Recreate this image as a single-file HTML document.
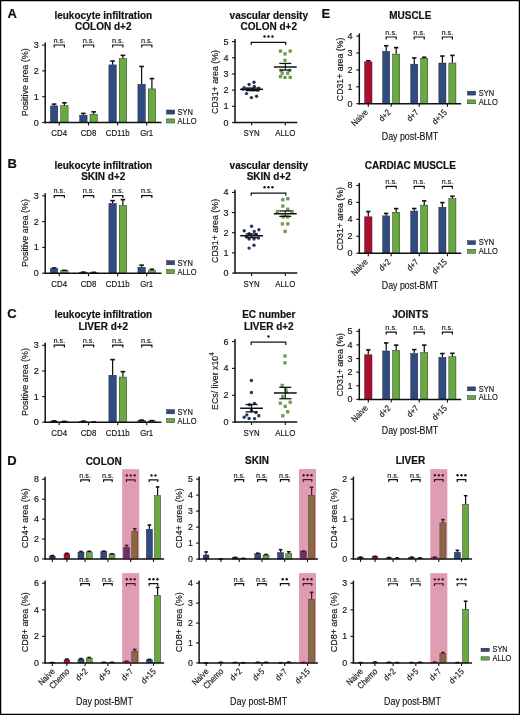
<!DOCTYPE html>
<html><head><meta charset="utf-8"><style>
html,body{margin:0;padding:0;background:#fff;}
body{width:520px;height:715px;overflow:hidden;}
svg{display:block;font-family:"Liberation Sans", sans-serif;will-change:transform;filter:blur(0.45px);}
text{fill:#111;}
</style></head><body>
<svg width="520" height="715" viewBox="0 0 520 715">
<rect x="0" y="0" width="520" height="715" fill="#fff"/>
<text x="7.60" y="18.30" font-size="13" font-weight="bold" stroke="#111" stroke-width="0.18">A</text>
<text x="7.40" y="167.90" font-size="13" font-weight="bold" stroke="#111" stroke-width="0.18">B</text>
<text x="7.20" y="317.70" font-size="13" font-weight="bold" stroke="#111" stroke-width="0.18">C</text>
<text x="7.20" y="465.00" font-size="13" font-weight="bold" stroke="#111" stroke-width="0.18">D</text>
<text x="321.60" y="18.40" font-size="13" font-weight="bold" stroke="#111" stroke-width="0.18">E</text>
<text x="103.30" y="18.80" font-size="10" font-weight="bold" text-anchor="middle" stroke="#111" stroke-width="0.18">leukocyte infiltration</text>
<text x="103.30" y="30.30" font-size="10" font-weight="bold" text-anchor="middle" stroke="#111" stroke-width="0.18">COLON d+2</text>
<rect x="50.40" y="105.93" width="7.40" height="16.57" fill="#2f4b80" stroke="#1c1c30" stroke-width="0.45"/>
<path d="M54.10 105.73L54.10 103.92" stroke="#111" stroke-width="1.25"/>
<path d="M51.80 104.12L56.40 104.12" stroke="#111" stroke-width="1.6"/>
<rect x="60.70" y="105.67" width="7.40" height="16.83" fill="#68aa3e" stroke="#1c1c30" stroke-width="0.45"/>
<path d="M64.40 105.47L64.40 102.63" stroke="#111" stroke-width="1.25"/>
<path d="M62.10 102.83L66.70 102.83" stroke="#111" stroke-width="1.6"/>
<path d="M54.20 47.40L54.20 45.00L64.40 45.00L64.40 47.40" stroke="#111" stroke-width="1.2" fill="none"/>
<text x="59.30" y="42.50" font-size="8" text-anchor="middle" textLength="11.80" lengthAdjust="spacingAndGlyphs" stroke="#222" stroke-width="0.15">n.s.</text>
<rect x="79.70" y="115.22" width="7.40" height="7.28" fill="#2f4b80" stroke="#1c1c30" stroke-width="0.45"/>
<path d="M83.40 115.02L83.40 113.21" stroke="#111" stroke-width="1.25"/>
<path d="M81.10 113.41L85.70 113.41" stroke="#111" stroke-width="1.6"/>
<rect x="90.00" y="114.19" width="7.40" height="8.31" fill="#68aa3e" stroke="#1c1c30" stroke-width="0.45"/>
<path d="M93.70 113.99L93.70 111.66" stroke="#111" stroke-width="1.25"/>
<path d="M91.40 111.86L96.00 111.86" stroke="#111" stroke-width="1.6"/>
<path d="M83.50 47.40L83.50 45.00L93.70 45.00L93.70 47.40" stroke="#111" stroke-width="1.2" fill="none"/>
<text x="88.60" y="42.50" font-size="8" text-anchor="middle" textLength="11.80" lengthAdjust="spacingAndGlyphs" stroke="#222" stroke-width="0.15">n.s.</text>
<rect x="108.90" y="64.91" width="7.40" height="57.59" fill="#2f4b80" stroke="#1c1c30" stroke-width="0.45"/>
<path d="M112.60 64.71L112.60 60.84" stroke="#111" stroke-width="1.25"/>
<path d="M110.30 61.04L114.90 61.04" stroke="#111" stroke-width="1.6"/>
<rect x="119.20" y="58.46" width="7.40" height="64.04" fill="#68aa3e" stroke="#1c1c30" stroke-width="0.45"/>
<path d="M122.90 58.26L122.90 55.16" stroke="#111" stroke-width="1.25"/>
<path d="M120.60 55.36L125.20 55.36" stroke="#111" stroke-width="1.6"/>
<path d="M112.70 47.40L112.70 45.00L122.90 45.00L122.90 47.40" stroke="#111" stroke-width="1.2" fill="none"/>
<text x="117.80" y="42.50" font-size="8" text-anchor="middle" textLength="11.80" lengthAdjust="spacingAndGlyphs" stroke="#222" stroke-width="0.15">n.s.</text>
<rect x="137.90" y="84.26" width="7.40" height="38.24" fill="#2f4b80" stroke="#1c1c30" stroke-width="0.45"/>
<path d="M141.60 84.06L141.60 66.26" stroke="#111" stroke-width="1.25"/>
<path d="M139.30 66.46L143.90 66.46" stroke="#111" stroke-width="1.6"/>
<rect x="148.20" y="88.90" width="7.40" height="33.60" fill="#68aa3e" stroke="#1c1c30" stroke-width="0.45"/>
<path d="M151.90 88.70L151.90 78.38" stroke="#111" stroke-width="1.25"/>
<path d="M149.60 78.58L154.20 78.58" stroke="#111" stroke-width="1.6"/>
<path d="M141.70 47.40L141.70 45.00L151.90 45.00L151.90 47.40" stroke="#111" stroke-width="1.2" fill="none"/>
<text x="146.80" y="42.50" font-size="8" text-anchor="middle" textLength="11.80" lengthAdjust="spacingAndGlyphs" stroke="#222" stroke-width="0.15">n.s.</text>
<path d="M45.20 42.50L45.20 123.20" stroke="#111" stroke-width="1.5"/>
<path d="M42.20 122.50L45.20 122.50" stroke="#111" stroke-width="1.1"/>
<text x="38.80" y="125.55" font-size="9.0" text-anchor="end" stroke="#111" stroke-width="0.15">0</text>
<path d="M42.20 96.70L45.20 96.70" stroke="#111" stroke-width="1.1"/>
<text x="38.80" y="99.75" font-size="9.0" text-anchor="end" stroke="#111" stroke-width="0.15">1</text>
<path d="M42.20 70.90L45.20 70.90" stroke="#111" stroke-width="1.1"/>
<text x="38.80" y="73.95" font-size="9.0" text-anchor="end" stroke="#111" stroke-width="0.15">2</text>
<path d="M42.20 45.10L45.20 45.10" stroke="#111" stroke-width="1.1"/>
<text x="38.80" y="48.15" font-size="9.0" text-anchor="end" stroke="#111" stroke-width="0.15">3</text>
<path d="M44.50 122.50L161.50 122.50" stroke="#111" stroke-width="1.5"/>
<path d="M59.20 122.50L59.20 125.50" stroke="#111" stroke-width="1.1"/>
<path d="M88.50 122.50L88.50 125.50" stroke="#111" stroke-width="1.1"/>
<path d="M117.70 122.50L117.70 125.50" stroke="#111" stroke-width="1.1"/>
<path d="M146.70 122.50L146.70 125.50" stroke="#111" stroke-width="1.1"/>
<text x="59.20" y="136.40" font-size="8.8" text-anchor="middle" textLength="15.70" lengthAdjust="spacingAndGlyphs" stroke="#111" stroke-width="0.15">CD4</text>
<text x="88.50" y="136.40" font-size="8.8" text-anchor="middle" textLength="15.70" lengthAdjust="spacingAndGlyphs" stroke="#111" stroke-width="0.15">CD8</text>
<text x="117.70" y="136.40" font-size="8.8" text-anchor="middle" textLength="23.85" lengthAdjust="spacingAndGlyphs" stroke="#111" stroke-width="0.15">CD11b</text>
<text x="146.70" y="136.40" font-size="8.8" text-anchor="middle" textLength="13.09" lengthAdjust="spacingAndGlyphs" stroke="#111" stroke-width="0.15">Gr1</text>
<text x="28.00" y="82.30" font-size="9.6" text-anchor="middle" transform="rotate(-90 28.00 82.30)" textLength="68.00" lengthAdjust="spacingAndGlyphs" stroke="#111" stroke-width="0.15">Positive area (%)</text>
<rect x="166.60" y="110.00" width="8.00" height="4.10" fill="#2f4b80" stroke="#1c1c30" stroke-width="0.45"/>
<rect x="166.60" y="118.90" width="8.00" height="4.10" fill="#68aa3e" stroke="#1c1c30" stroke-width="0.45"/>
<text x="177.40" y="114.90" font-size="8.6" textLength="15.42" lengthAdjust="spacingAndGlyphs" stroke="#111" stroke-width="0.15">SYN</text>
<text x="177.40" y="123.80" font-size="8.6" textLength="19.18" lengthAdjust="spacingAndGlyphs" stroke="#111" stroke-width="0.15">ALLO</text>
<text x="103.30" y="168.70" font-size="10" font-weight="bold" text-anchor="middle" stroke="#111" stroke-width="0.18">leukocyte infiltration</text>
<text x="103.30" y="180.20" font-size="10" font-weight="bold" text-anchor="middle" stroke="#111" stroke-width="0.18">SKIN d+2</text>
<rect x="50.40" y="268.76" width="7.40" height="4.44" fill="#2f4b80" stroke="#1c1c30" stroke-width="0.45"/>
<path d="M54.10 268.56L54.10 267.78" stroke="#111" stroke-width="1.25"/>
<path d="M51.80 267.98L56.40 267.98" stroke="#111" stroke-width="1.6"/>
<rect x="60.70" y="270.56" width="7.40" height="2.64" fill="#68aa3e" stroke="#1c1c30" stroke-width="0.45"/>
<path d="M64.40 270.36L64.40 270.10" stroke="#111" stroke-width="1.25"/>
<path d="M62.10 270.30L66.70 270.30" stroke="#111" stroke-width="1.6"/>
<path d="M54.20 198.10L54.20 195.70L64.40 195.70L64.40 198.10" stroke="#111" stroke-width="1.2" fill="none"/>
<text x="59.30" y="193.20" font-size="8" text-anchor="middle" textLength="11.80" lengthAdjust="spacingAndGlyphs" stroke="#222" stroke-width="0.15">n.s.</text>
<rect x="79.70" y="272.37" width="7.40" height="0.83" fill="#2f4b80" stroke="#1c1c30" stroke-width="0.45"/>
<path d="M83.40 272.17L83.40 271.91" stroke="#111" stroke-width="1.25"/>
<path d="M81.10 272.11L85.70 272.11" stroke="#111" stroke-width="1.6"/>
<rect x="90.00" y="272.63" width="7.40" height="0.57" fill="#68aa3e" stroke="#1c1c30" stroke-width="0.45"/>
<path d="M93.70 272.43L93.70 272.17" stroke="#111" stroke-width="1.25"/>
<path d="M91.40 272.37L96.00 272.37" stroke="#111" stroke-width="1.6"/>
<path d="M83.50 198.10L83.50 195.70L93.70 195.70L93.70 198.10" stroke="#111" stroke-width="1.2" fill="none"/>
<text x="88.60" y="193.20" font-size="8" text-anchor="middle" textLength="11.80" lengthAdjust="spacingAndGlyphs" stroke="#222" stroke-width="0.15">n.s.</text>
<rect x="108.90" y="203.48" width="7.40" height="69.72" fill="#2f4b80" stroke="#1c1c30" stroke-width="0.45"/>
<path d="M112.60 203.28L112.60 200.44" stroke="#111" stroke-width="1.25"/>
<path d="M110.30 200.64L114.90 200.64" stroke="#111" stroke-width="1.6"/>
<rect x="119.20" y="205.55" width="7.40" height="67.65" fill="#68aa3e" stroke="#1c1c30" stroke-width="0.45"/>
<path d="M122.90 205.35L122.90 199.41" stroke="#111" stroke-width="1.25"/>
<path d="M120.60 199.61L125.20 199.61" stroke="#111" stroke-width="1.6"/>
<path d="M112.70 198.10L112.70 195.70L122.90 195.70L122.90 198.10" stroke="#111" stroke-width="1.2" fill="none"/>
<text x="117.80" y="193.20" font-size="8" text-anchor="middle" textLength="11.80" lengthAdjust="spacingAndGlyphs" stroke="#222" stroke-width="0.15">n.s.</text>
<rect x="137.90" y="267.21" width="7.40" height="5.99" fill="#2f4b80" stroke="#1c1c30" stroke-width="0.45"/>
<path d="M141.60 267.01L141.60 264.94" stroke="#111" stroke-width="1.25"/>
<path d="M139.30 265.14L143.90 265.14" stroke="#111" stroke-width="1.6"/>
<rect x="148.20" y="270.56" width="7.40" height="2.64" fill="#68aa3e" stroke="#1c1c30" stroke-width="0.45"/>
<path d="M151.90 270.36L151.90 269.07" stroke="#111" stroke-width="1.25"/>
<path d="M149.60 269.27L154.20 269.27" stroke="#111" stroke-width="1.6"/>
<path d="M141.70 198.10L141.70 195.70L151.90 195.70L151.90 198.10" stroke="#111" stroke-width="1.2" fill="none"/>
<text x="146.80" y="193.20" font-size="8" text-anchor="middle" textLength="11.80" lengthAdjust="spacingAndGlyphs" stroke="#222" stroke-width="0.15">n.s.</text>
<path d="M45.20 193.20L45.20 273.90" stroke="#111" stroke-width="1.5"/>
<path d="M42.20 273.20L45.20 273.20" stroke="#111" stroke-width="1.1"/>
<text x="38.80" y="276.25" font-size="9.0" text-anchor="end" stroke="#111" stroke-width="0.15">0</text>
<path d="M42.20 247.40L45.20 247.40" stroke="#111" stroke-width="1.1"/>
<text x="38.80" y="250.45" font-size="9.0" text-anchor="end" stroke="#111" stroke-width="0.15">1</text>
<path d="M42.20 221.60L45.20 221.60" stroke="#111" stroke-width="1.1"/>
<text x="38.80" y="224.65" font-size="9.0" text-anchor="end" stroke="#111" stroke-width="0.15">2</text>
<path d="M42.20 195.80L45.20 195.80" stroke="#111" stroke-width="1.1"/>
<text x="38.80" y="198.85" font-size="9.0" text-anchor="end" stroke="#111" stroke-width="0.15">3</text>
<path d="M44.50 273.20L161.50 273.20" stroke="#111" stroke-width="1.5"/>
<path d="M59.20 273.20L59.20 276.20" stroke="#111" stroke-width="1.1"/>
<path d="M88.50 273.20L88.50 276.20" stroke="#111" stroke-width="1.1"/>
<path d="M117.70 273.20L117.70 276.20" stroke="#111" stroke-width="1.1"/>
<path d="M146.70 273.20L146.70 276.20" stroke="#111" stroke-width="1.1"/>
<text x="59.20" y="287.10" font-size="8.8" text-anchor="middle" textLength="15.70" lengthAdjust="spacingAndGlyphs" stroke="#111" stroke-width="0.15">CD4</text>
<text x="88.50" y="287.10" font-size="8.8" text-anchor="middle" textLength="15.70" lengthAdjust="spacingAndGlyphs" stroke="#111" stroke-width="0.15">CD8</text>
<text x="117.70" y="287.10" font-size="8.8" text-anchor="middle" textLength="23.85" lengthAdjust="spacingAndGlyphs" stroke="#111" stroke-width="0.15">CD11b</text>
<text x="146.70" y="287.10" font-size="8.8" text-anchor="middle" textLength="13.09" lengthAdjust="spacingAndGlyphs" stroke="#111" stroke-width="0.15">Gr1</text>
<text x="28.00" y="233.00" font-size="9.6" text-anchor="middle" transform="rotate(-90 28.00 233.00)" textLength="68.00" lengthAdjust="spacingAndGlyphs" stroke="#111" stroke-width="0.15">Positive area (%)</text>
<rect x="166.60" y="260.70" width="8.00" height="4.10" fill="#2f4b80" stroke="#1c1c30" stroke-width="0.45"/>
<rect x="166.60" y="269.60" width="8.00" height="4.10" fill="#68aa3e" stroke="#1c1c30" stroke-width="0.45"/>
<text x="177.40" y="265.60" font-size="8.6" textLength="15.42" lengthAdjust="spacingAndGlyphs" stroke="#111" stroke-width="0.15">SYN</text>
<text x="177.40" y="274.50" font-size="8.6" textLength="19.18" lengthAdjust="spacingAndGlyphs" stroke="#111" stroke-width="0.15">ALLO</text>
<text x="103.30" y="318.00" font-size="10" font-weight="bold" text-anchor="middle" stroke="#111" stroke-width="0.18">leukocyte infiltration</text>
<text x="103.30" y="329.50" font-size="10" font-weight="bold" text-anchor="middle" stroke="#111" stroke-width="0.18">LIVER d+2</text>
<rect x="50.40" y="421.12" width="7.40" height="1.08" fill="#2f4b80" stroke="#1c1c30" stroke-width="0.45"/>
<path d="M54.10 420.92L54.10 420.66" stroke="#111" stroke-width="1.25"/>
<path d="M51.80 420.86L56.40 420.86" stroke="#111" stroke-width="1.6"/>
<rect x="60.70" y="421.63" width="7.40" height="0.57" fill="#68aa3e" stroke="#1c1c30" stroke-width="0.45"/>
<path d="M64.40 421.43L64.40 421.17" stroke="#111" stroke-width="1.25"/>
<path d="M62.10 421.37L66.70 421.37" stroke="#111" stroke-width="1.6"/>
<path d="M54.20 347.61L54.20 345.21L64.40 345.21L64.40 347.61" stroke="#111" stroke-width="1.2" fill="none"/>
<text x="59.30" y="342.71" font-size="8" text-anchor="middle" textLength="11.80" lengthAdjust="spacingAndGlyphs" stroke="#222" stroke-width="0.15">n.s.</text>
<rect x="79.70" y="421.37" width="7.40" height="0.83" fill="#2f4b80" stroke="#1c1c30" stroke-width="0.45"/>
<path d="M83.40 421.17L83.40 420.92" stroke="#111" stroke-width="1.25"/>
<path d="M81.10 421.12L85.70 421.12" stroke="#111" stroke-width="1.6"/>
<rect x="90.00" y="422.14" width="7.40" height="0.06" fill="#68aa3e" stroke="#1c1c30" stroke-width="0.45"/>
<path d="M93.70 421.94L93.70 421.69" stroke="#111" stroke-width="1.25"/>
<path d="M91.40 421.89L96.00 421.89" stroke="#111" stroke-width="1.6"/>
<path d="M83.50 347.61L83.50 345.21L93.70 345.21L93.70 347.61" stroke="#111" stroke-width="1.2" fill="none"/>
<text x="88.60" y="342.71" font-size="8" text-anchor="middle" textLength="11.80" lengthAdjust="spacingAndGlyphs" stroke="#222" stroke-width="0.15">n.s.</text>
<rect x="108.90" y="375.24" width="7.40" height="46.96" fill="#2f4b80" stroke="#1c1c30" stroke-width="0.45"/>
<path d="M112.60 375.04L112.60 359.41" stroke="#111" stroke-width="1.25"/>
<path d="M110.30 359.61L114.90 359.61" stroke="#111" stroke-width="1.6"/>
<rect x="119.20" y="377.03" width="7.40" height="45.17" fill="#68aa3e" stroke="#1c1c30" stroke-width="0.45"/>
<path d="M122.90 376.83L122.90 371.45" stroke="#111" stroke-width="1.25"/>
<path d="M120.60 371.65L125.20 371.65" stroke="#111" stroke-width="1.6"/>
<path d="M112.70 347.61L112.70 345.21L122.90 345.21L122.90 347.61" stroke="#111" stroke-width="1.2" fill="none"/>
<text x="117.80" y="342.71" font-size="8" text-anchor="middle" textLength="11.80" lengthAdjust="spacingAndGlyphs" stroke="#222" stroke-width="0.15">n.s.</text>
<rect x="137.90" y="420.35" width="7.40" height="1.85" fill="#2f4b80" stroke="#1c1c30" stroke-width="0.45"/>
<path d="M141.60 420.15L141.60 419.89" stroke="#111" stroke-width="1.25"/>
<path d="M139.30 420.09L143.90 420.09" stroke="#111" stroke-width="1.6"/>
<rect x="148.20" y="420.86" width="7.40" height="1.34" fill="#68aa3e" stroke="#1c1c30" stroke-width="0.45"/>
<path d="M151.90 420.66L151.90 420.41" stroke="#111" stroke-width="1.25"/>
<path d="M149.60 420.61L154.20 420.61" stroke="#111" stroke-width="1.6"/>
<path d="M141.70 347.61L141.70 345.21L151.90 345.21L151.90 347.61" stroke="#111" stroke-width="1.2" fill="none"/>
<text x="146.80" y="342.71" font-size="8" text-anchor="middle" textLength="11.80" lengthAdjust="spacingAndGlyphs" stroke="#222" stroke-width="0.15">n.s.</text>
<path d="M45.20 342.71L45.20 422.90" stroke="#111" stroke-width="1.5"/>
<path d="M42.20 422.20L45.20 422.20" stroke="#111" stroke-width="1.1"/>
<text x="38.80" y="425.25" font-size="9.0" text-anchor="end" stroke="#111" stroke-width="0.15">0</text>
<path d="M42.20 396.57L45.20 396.57" stroke="#111" stroke-width="1.1"/>
<text x="38.80" y="399.62" font-size="9.0" text-anchor="end" stroke="#111" stroke-width="0.15">1</text>
<path d="M42.20 370.94L45.20 370.94" stroke="#111" stroke-width="1.1"/>
<text x="38.80" y="373.99" font-size="9.0" text-anchor="end" stroke="#111" stroke-width="0.15">2</text>
<path d="M42.20 345.31L45.20 345.31" stroke="#111" stroke-width="1.1"/>
<text x="38.80" y="348.36" font-size="9.0" text-anchor="end" stroke="#111" stroke-width="0.15">3</text>
<path d="M44.50 422.20L161.50 422.20" stroke="#111" stroke-width="1.5"/>
<path d="M59.20 422.20L59.20 425.20" stroke="#111" stroke-width="1.1"/>
<path d="M88.50 422.20L88.50 425.20" stroke="#111" stroke-width="1.1"/>
<path d="M117.70 422.20L117.70 425.20" stroke="#111" stroke-width="1.1"/>
<path d="M146.70 422.20L146.70 425.20" stroke="#111" stroke-width="1.1"/>
<text x="59.20" y="436.10" font-size="8.8" text-anchor="middle" textLength="15.70" lengthAdjust="spacingAndGlyphs" stroke="#111" stroke-width="0.15">CD4</text>
<text x="88.50" y="436.10" font-size="8.8" text-anchor="middle" textLength="15.70" lengthAdjust="spacingAndGlyphs" stroke="#111" stroke-width="0.15">CD8</text>
<text x="117.70" y="436.10" font-size="8.8" text-anchor="middle" textLength="23.85" lengthAdjust="spacingAndGlyphs" stroke="#111" stroke-width="0.15">CD11b</text>
<text x="146.70" y="436.10" font-size="8.8" text-anchor="middle" textLength="13.09" lengthAdjust="spacingAndGlyphs" stroke="#111" stroke-width="0.15">Gr1</text>
<text x="28.00" y="382.00" font-size="9.6" text-anchor="middle" transform="rotate(-90 28.00 382.00)" textLength="68.00" lengthAdjust="spacingAndGlyphs" stroke="#111" stroke-width="0.15">Positive area (%)</text>
<rect x="166.60" y="409.70" width="8.00" height="4.10" fill="#2f4b80" stroke="#1c1c30" stroke-width="0.45"/>
<rect x="166.60" y="418.60" width="8.00" height="4.10" fill="#68aa3e" stroke="#1c1c30" stroke-width="0.45"/>
<text x="177.40" y="414.60" font-size="8.6" textLength="15.42" lengthAdjust="spacingAndGlyphs" stroke="#111" stroke-width="0.15">SYN</text>
<text x="177.40" y="423.50" font-size="8.6" textLength="19.18" lengthAdjust="spacingAndGlyphs" stroke="#111" stroke-width="0.15">ALLO</text>
<text x="268.80" y="18.80" font-size="10" font-weight="bold" text-anchor="middle" stroke="#111" stroke-width="0.18">vascular density</text>
<text x="268.80" y="30.30" font-size="10" font-weight="bold" text-anchor="middle" stroke="#111" stroke-width="0.18">COLON d+2</text>
<path d="M235.00 39.00L235.00 123.20" stroke="#111" stroke-width="1.5"/>
<path d="M232.00 122.50L235.00 122.50" stroke="#111" stroke-width="1.1"/>
<text x="228.40" y="125.55" font-size="9.0" text-anchor="end" stroke="#111" stroke-width="0.15">0</text>
<path d="M232.00 106.32L235.00 106.32" stroke="#111" stroke-width="1.1"/>
<text x="228.40" y="109.37" font-size="9.0" text-anchor="end" stroke="#111" stroke-width="0.15">1</text>
<path d="M232.00 90.14L235.00 90.14" stroke="#111" stroke-width="1.1"/>
<text x="228.40" y="93.19" font-size="9.0" text-anchor="end" stroke="#111" stroke-width="0.15">2</text>
<path d="M232.00 73.96L235.00 73.96" stroke="#111" stroke-width="1.1"/>
<text x="228.40" y="77.01" font-size="9.0" text-anchor="end" stroke="#111" stroke-width="0.15">3</text>
<path d="M232.00 57.78L235.00 57.78" stroke="#111" stroke-width="1.1"/>
<text x="228.40" y="60.83" font-size="9.0" text-anchor="end" stroke="#111" stroke-width="0.15">4</text>
<path d="M232.00 41.60L235.00 41.60" stroke="#111" stroke-width="1.1"/>
<text x="228.40" y="44.65" font-size="9.0" text-anchor="end" stroke="#111" stroke-width="0.15">5</text>
<path d="M234.30 122.50L297.30 122.50" stroke="#111" stroke-width="1.5"/>
<path d="M251.60 122.50L251.60 125.50" stroke="#111" stroke-width="1.1"/>
<path d="M285.30 122.50L285.30 125.50" stroke="#111" stroke-width="1.1"/>
<text x="251.60" y="136.20" font-size="8.8" text-anchor="middle" textLength="16.14" lengthAdjust="spacingAndGlyphs" stroke="#111" stroke-width="0.15">SYN</text>
<text x="285.30" y="136.20" font-size="8.8" text-anchor="middle" textLength="20.07" lengthAdjust="spacingAndGlyphs" stroke="#111" stroke-width="0.15">ALLO</text>
<path d="M251.20 45.00L251.20 42.30L285.80 42.30L285.80 45.00" stroke="#111" stroke-width="1.2" fill="none"/>
<circle cx="264.55" cy="36.50" r="1.2" fill="#111"/>
<circle cx="268.50" cy="36.50" r="1.2" fill="#111"/>
<circle cx="272.45" cy="36.50" r="1.2" fill="#111"/>
<circle cx="254" cy="82.2" r="1.7" fill="#23395f"/>
<circle cx="249.1" cy="84.5" r="1.7" fill="#23395f"/>
<circle cx="244.2" cy="87.8" r="1.7" fill="#23395f"/>
<circle cx="254.3" cy="86.5" r="1.7" fill="#23395f"/>
<circle cx="258.9" cy="88.1" r="1.7" fill="#23395f"/>
<circle cx="246.5" cy="93.6" r="1.7" fill="#23395f"/>
<circle cx="251.4" cy="97.6" r="1.7" fill="#23395f"/>
<circle cx="256.6" cy="96.3" r="1.7" fill="#23395f"/>
<circle cx="247.8" cy="89.5" r="1.7" fill="#23395f"/>
<circle cx="253" cy="89.8" r="1.7" fill="#23395f"/>
<circle cx="258" cy="90.3" r="1.7" fill="#23395f"/>
<circle cx="243" cy="89.2" r="1.7" fill="#23395f"/>
<rect x="278.85" y="49.45" width="3.3" height="3.3" fill="#6f9b50"/>
<rect x="288.55" y="49.45" width="3.3" height="3.3" fill="#6f9b50"/>
<rect x="283.35" y="52.25" width="3.3" height="3.3" fill="#6f9b50"/>
<rect x="283.35" y="58.75" width="3.3" height="3.3" fill="#6f9b50"/>
<rect x="279.55" y="68.85" width="3.3" height="3.3" fill="#6f9b50"/>
<rect x="287.85" y="68.85" width="3.3" height="3.3" fill="#6f9b50"/>
<rect x="280.55" y="71.55" width="3.3" height="3.3" fill="#6f9b50"/>
<rect x="286.05" y="71.55" width="3.3" height="3.3" fill="#6f9b50"/>
<rect x="278.85" y="75.05" width="3.3" height="3.3" fill="#6f9b50"/>
<rect x="283.35" y="75.75" width="3.3" height="3.3" fill="#6f9b50"/>
<rect x="288.55" y="75.75" width="3.3" height="3.3" fill="#6f9b50"/>
<path d="M240.20 89.33L263.00 89.33" stroke="#111" stroke-width="1.5"/>
<path d="M245.60 90.63L257.60 90.63" stroke="#111" stroke-width="1.3"/>
<path d="M245.60 88.04L257.60 88.04" stroke="#111" stroke-width="1.3"/>
<path d="M251.60 90.63L251.60 88.04" stroke="#111" stroke-width="1.1"/>
<path d="M273.90 67.00L296.70 67.00" stroke="#111" stroke-width="1.5"/>
<path d="M279.30 70.08L291.30 70.08" stroke="#111" stroke-width="1.3"/>
<path d="M279.30 63.44L291.30 63.44" stroke="#111" stroke-width="1.3"/>
<path d="M285.30 70.08L285.30 63.44" stroke="#111" stroke-width="1.1"/>
<text x="218.30" y="82.00" font-size="9.6" text-anchor="middle" transform="rotate(-90 218.30 82.00)" textLength="64.00" lengthAdjust="spacingAndGlyphs" stroke="#111" stroke-width="0.15">CD31+ area (%)</text>
<text x="268.80" y="168.90" font-size="10" font-weight="bold" text-anchor="middle" stroke="#111" stroke-width="0.18">vascular density</text>
<text x="268.80" y="180.40" font-size="10" font-weight="bold" text-anchor="middle" stroke="#111" stroke-width="0.18">SKIN d+2</text>
<path d="M235.00 189.78L235.00 273.80" stroke="#111" stroke-width="1.5"/>
<path d="M232.00 273.10L235.00 273.10" stroke="#111" stroke-width="1.1"/>
<text x="228.40" y="276.15" font-size="9.0" text-anchor="end" stroke="#111" stroke-width="0.15">0</text>
<path d="M232.00 252.92L235.00 252.92" stroke="#111" stroke-width="1.1"/>
<text x="228.40" y="255.97" font-size="9.0" text-anchor="end" stroke="#111" stroke-width="0.15">1</text>
<path d="M232.00 232.74L235.00 232.74" stroke="#111" stroke-width="1.1"/>
<text x="228.40" y="235.79" font-size="9.0" text-anchor="end" stroke="#111" stroke-width="0.15">2</text>
<path d="M232.00 212.56L235.00 212.56" stroke="#111" stroke-width="1.1"/>
<text x="228.40" y="215.61" font-size="9.0" text-anchor="end" stroke="#111" stroke-width="0.15">3</text>
<path d="M232.00 192.38L235.00 192.38" stroke="#111" stroke-width="1.1"/>
<text x="228.40" y="195.43" font-size="9.0" text-anchor="end" stroke="#111" stroke-width="0.15">4</text>
<path d="M234.30 273.10L297.30 273.10" stroke="#111" stroke-width="1.5"/>
<path d="M251.60 273.10L251.60 276.10" stroke="#111" stroke-width="1.1"/>
<path d="M285.30 273.10L285.30 276.10" stroke="#111" stroke-width="1.1"/>
<text x="251.60" y="286.80" font-size="8.8" text-anchor="middle" textLength="16.14" lengthAdjust="spacingAndGlyphs" stroke="#111" stroke-width="0.15">SYN</text>
<text x="285.30" y="286.80" font-size="8.8" text-anchor="middle" textLength="20.07" lengthAdjust="spacingAndGlyphs" stroke="#111" stroke-width="0.15">ALLO</text>
<path d="M251.20 195.78L251.20 193.08L285.80 193.08L285.80 195.78" stroke="#111" stroke-width="1.2" fill="none"/>
<circle cx="264.55" cy="187.28" r="1.2" fill="#111"/>
<circle cx="268.50" cy="187.28" r="1.2" fill="#111"/>
<circle cx="272.45" cy="187.28" r="1.2" fill="#111"/>
<circle cx="251.6" cy="226.2" r="1.7" fill="#23395f"/>
<circle cx="244.2" cy="230.8" r="1.7" fill="#23395f"/>
<circle cx="254.3" cy="231.4" r="1.7" fill="#23395f"/>
<circle cx="258.9" cy="229.8" r="1.7" fill="#23395f"/>
<circle cx="249.1" cy="233.7" r="1.7" fill="#23395f"/>
<circle cx="256.3" cy="234.4" r="1.7" fill="#23395f"/>
<circle cx="249.1" cy="239" r="1.7" fill="#23395f"/>
<circle cx="254" cy="239" r="1.7" fill="#23395f"/>
<circle cx="258.5" cy="238" r="1.7" fill="#23395f"/>
<circle cx="246.5" cy="236.7" r="1.7" fill="#23395f"/>
<circle cx="254" cy="245.2" r="1.7" fill="#23395f"/>
<circle cx="249.1" cy="248.1" r="1.7" fill="#23395f"/>
<rect x="281.15" y="198.05" width="3.3" height="3.3" fill="#6f9b50"/>
<rect x="286.15" y="197.05" width="3.3" height="3.3" fill="#6f9b50"/>
<rect x="281.15" y="204.45" width="3.3" height="3.3" fill="#6f9b50"/>
<rect x="286.15" y="207.55" width="3.3" height="3.3" fill="#6f9b50"/>
<rect x="275.75" y="209.85" width="3.3" height="3.3" fill="#6f9b50"/>
<rect x="290.55" y="209.85" width="3.3" height="3.3" fill="#6f9b50"/>
<rect x="281.45" y="215.25" width="3.3" height="3.3" fill="#6f9b50"/>
<rect x="285.85" y="215.25" width="3.3" height="3.3" fill="#6f9b50"/>
<rect x="280.75" y="222.25" width="3.3" height="3.3" fill="#6f9b50"/>
<rect x="286.15" y="222.25" width="3.3" height="3.3" fill="#6f9b50"/>
<rect x="283.45" y="229.65" width="3.3" height="3.3" fill="#6f9b50"/>
<path d="M240.20 235.77L263.00 235.77" stroke="#111" stroke-width="1.5"/>
<path d="M245.60 237.58L257.60 237.58" stroke="#111" stroke-width="1.3"/>
<path d="M245.60 233.95L257.60 233.95" stroke="#111" stroke-width="1.3"/>
<path d="M251.60 237.58L251.60 233.95" stroke="#111" stroke-width="1.1"/>
<path d="M273.90 213.77L296.70 213.77" stroke="#111" stroke-width="1.5"/>
<path d="M279.30 216.39L291.30 216.39" stroke="#111" stroke-width="1.3"/>
<path d="M279.30 210.95L291.30 210.95" stroke="#111" stroke-width="1.3"/>
<path d="M285.30 216.39L285.30 210.95" stroke="#111" stroke-width="1.1"/>
<text x="218.30" y="230.90" font-size="9.6" text-anchor="middle" transform="rotate(-90 218.30 230.90)" textLength="64.00" lengthAdjust="spacingAndGlyphs" stroke="#111" stroke-width="0.15">CD31+ area (%)</text>
<text x="268.80" y="318.00" font-size="10" font-weight="bold" text-anchor="middle" stroke="#111" stroke-width="0.18">EC number</text>
<text x="268.80" y="329.50" font-size="10" font-weight="bold" text-anchor="middle" stroke="#111" stroke-width="0.18">LIVER d+2</text>
<path d="M235.00 338.92L235.00 422.80" stroke="#111" stroke-width="1.5"/>
<path d="M232.00 422.10L235.00 422.10" stroke="#111" stroke-width="1.1"/>
<text x="228.40" y="425.15" font-size="9.0" text-anchor="end" stroke="#111" stroke-width="0.15">0</text>
<path d="M232.00 395.24L235.00 395.24" stroke="#111" stroke-width="1.1"/>
<text x="228.40" y="398.29" font-size="9.0" text-anchor="end" stroke="#111" stroke-width="0.15">2</text>
<path d="M232.00 368.38L235.00 368.38" stroke="#111" stroke-width="1.1"/>
<text x="228.40" y="371.43" font-size="9.0" text-anchor="end" stroke="#111" stroke-width="0.15">4</text>
<path d="M232.00 341.52L235.00 341.52" stroke="#111" stroke-width="1.1"/>
<text x="228.40" y="344.57" font-size="9.0" text-anchor="end" stroke="#111" stroke-width="0.15">6</text>
<path d="M234.30 422.10L297.30 422.10" stroke="#111" stroke-width="1.5"/>
<path d="M251.60 422.10L251.60 425.10" stroke="#111" stroke-width="1.1"/>
<path d="M285.30 422.10L285.30 425.10" stroke="#111" stroke-width="1.1"/>
<text x="251.60" y="435.80" font-size="8.8" text-anchor="middle" textLength="16.14" lengthAdjust="spacingAndGlyphs" stroke="#111" stroke-width="0.15">SYN</text>
<text x="285.30" y="435.80" font-size="8.8" text-anchor="middle" textLength="20.07" lengthAdjust="spacingAndGlyphs" stroke="#111" stroke-width="0.15">ALLO</text>
<path d="M251.20 344.92L251.20 342.22L285.80 342.22L285.80 344.92" stroke="#111" stroke-width="1.2" fill="none"/>
<circle cx="268.50" cy="336.42" r="1.2" fill="#111"/>
<circle cx="251.4" cy="380.5" r="1.7" fill="#23395f"/>
<circle cx="251.4" cy="392.5" r="1.7" fill="#23395f"/>
<circle cx="249.5" cy="404.7" r="1.7" fill="#23395f"/>
<circle cx="254.5" cy="403.5" r="1.7" fill="#23395f"/>
<circle cx="244.2" cy="417.2" r="1.7" fill="#23395f"/>
<circle cx="249.1" cy="418.4" r="1.7" fill="#23395f"/>
<circle cx="254.5" cy="418.6" r="1.7" fill="#23395f"/>
<circle cx="258.8" cy="415.8" r="1.7" fill="#23395f"/>
<circle cx="246.8" cy="414.9" r="1.7" fill="#23395f"/>
<circle cx="251.5" cy="410.5" r="1.7" fill="#23395f"/>
<circle cx="256" cy="412.5" r="1.7" fill="#23395f"/>
<rect x="283.35" y="354.35" width="3.3" height="3.3" fill="#6f9b50"/>
<rect x="283.35" y="361.15" width="3.3" height="3.3" fill="#6f9b50"/>
<rect x="280.55" y="383.75" width="3.3" height="3.3" fill="#6f9b50"/>
<rect x="284.15" y="388.05" width="3.3" height="3.3" fill="#6f9b50"/>
<rect x="284.85" y="390.55" width="3.3" height="3.3" fill="#6f9b50"/>
<rect x="281.15" y="394.85" width="3.3" height="3.3" fill="#6f9b50"/>
<rect x="278.65" y="401.55" width="3.3" height="3.3" fill="#6f9b50"/>
<rect x="288.55" y="400.55" width="3.3" height="3.3" fill="#6f9b50"/>
<rect x="283.55" y="404.65" width="3.3" height="3.3" fill="#6f9b50"/>
<rect x="286.05" y="410.15" width="3.3" height="3.3" fill="#6f9b50"/>
<rect x="281.15" y="414.15" width="3.3" height="3.3" fill="#6f9b50"/>
<path d="M240.20 408.27L263.00 408.27" stroke="#111" stroke-width="1.5"/>
<path d="M245.60 411.89L257.60 411.89" stroke="#111" stroke-width="1.3"/>
<path d="M245.60 404.51L257.60 404.51" stroke="#111" stroke-width="1.3"/>
<path d="M251.60 411.89L251.60 404.51" stroke="#111" stroke-width="1.1"/>
<path d="M273.90 392.96L296.70 392.96" stroke="#111" stroke-width="1.5"/>
<path d="M279.30 398.73L291.30 398.73" stroke="#111" stroke-width="1.3"/>
<path d="M279.30 387.32L291.30 387.32" stroke="#111" stroke-width="1.3"/>
<path d="M285.30 398.73L285.30 387.32" stroke="#111" stroke-width="1.1"/>
<text x="218.3" y="381.2" font-size="9.6" text-anchor="middle" stroke="#111" stroke-width="0.15" transform="rotate(-90 218.3 381.2)" textLength="57.5" lengthAdjust="spacingAndGlyphs">ECs/ liver x10<tspan font-size="6.5" dy="-3.8">4</tspan></text>
<rect x="49.45" y="556.02" width="5.70" height="2.88" fill="#4b2a68" stroke="#1c1c30" stroke-width="0.45"/>
<path d="M52.30 555.82L52.30 555.32" stroke="#111" stroke-width="1.25"/>
<path d="M50.50 555.52L54.10 555.52" stroke="#111" stroke-width="1.6"/>
<rect x="64.05" y="553.83" width="5.70" height="5.07" fill="#b00c30" stroke="#1c1c30" stroke-width="0.45"/>
<path d="M66.90 553.63L66.90 553.13" stroke="#111" stroke-width="1.25"/>
<path d="M65.10 553.33L68.70 553.33" stroke="#111" stroke-width="1.6"/>
<rect x="78.00" y="552.13" width="6.00" height="6.77" fill="#2f4b80" stroke="#1c1c30" stroke-width="0.45"/>
<path d="M81.00 551.93L81.00 551.34" stroke="#111" stroke-width="1.25"/>
<path d="M79.20 551.54L82.80 551.54" stroke="#111" stroke-width="1.6"/>
<rect x="86.20" y="551.84" width="6.00" height="7.06" fill="#68aa3e" stroke="#1c1c30" stroke-width="0.45"/>
<path d="M89.20 551.64L89.20 551.14" stroke="#111" stroke-width="1.25"/>
<path d="M87.40 551.34L91.00 551.34" stroke="#111" stroke-width="1.6"/>
<rect x="100.80" y="551.54" width="6.00" height="7.36" fill="#2f4b80" stroke="#1c1c30" stroke-width="0.45"/>
<path d="M103.80 551.34L103.80 550.94" stroke="#111" stroke-width="1.25"/>
<path d="M102.00 551.14L105.60 551.14" stroke="#111" stroke-width="1.6"/>
<rect x="109.00" y="554.03" width="6.00" height="4.87" fill="#68aa3e" stroke="#1c1c30" stroke-width="0.45"/>
<path d="M112.00 553.83L112.00 553.63" stroke="#111" stroke-width="1.25"/>
<path d="M110.20 553.83L113.80 553.83" stroke="#111" stroke-width="1.6"/>
<rect x="123.60" y="547.46" width="6.00" height="11.44" fill="#2f4b80" stroke="#1c1c30" stroke-width="0.45"/>
<path d="M126.60 547.26L126.60 545.27" stroke="#111" stroke-width="1.25"/>
<path d="M124.80 545.47L128.40 545.47" stroke="#111" stroke-width="1.6"/>
<rect x="131.80" y="531.44" width="6.00" height="27.46" fill="#68aa3e" stroke="#1c1c30" stroke-width="0.45"/>
<path d="M134.80 531.24L134.80 528.55" stroke="#111" stroke-width="1.25"/>
<path d="M133.00 528.75L136.60 528.75" stroke="#111" stroke-width="1.6"/>
<rect x="146.40" y="529.25" width="6.00" height="29.65" fill="#2f4b80" stroke="#1c1c30" stroke-width="0.45"/>
<path d="M149.40 529.05L149.40 524.87" stroke="#111" stroke-width="1.25"/>
<path d="M147.60 525.07L151.20 525.07" stroke="#111" stroke-width="1.6"/>
<rect x="154.60" y="495.62" width="6.00" height="63.28" fill="#68aa3e" stroke="#1c1c30" stroke-width="0.45"/>
<path d="M157.60 495.42L157.60 486.76" stroke="#111" stroke-width="1.25"/>
<path d="M155.80 486.96L159.40 486.96" stroke="#111" stroke-width="1.6"/>
<path d="M45.10 476.70L45.10 559.60" stroke="#111" stroke-width="1.5"/>
<path d="M42.10 558.90L45.10 558.90" stroke="#111" stroke-width="1.1"/>
<text x="38.80" y="561.95" font-size="8.8" text-anchor="end" stroke="#111" stroke-width="0.15">0</text>
<path d="M42.10 539.00L45.10 539.00" stroke="#111" stroke-width="1.1"/>
<text x="38.80" y="542.05" font-size="8.8" text-anchor="end" stroke="#111" stroke-width="0.15">2</text>
<path d="M42.10 519.10L45.10 519.10" stroke="#111" stroke-width="1.1"/>
<text x="38.80" y="522.15" font-size="8.8" text-anchor="end" stroke="#111" stroke-width="0.15">4</text>
<path d="M42.10 499.20L45.10 499.20" stroke="#111" stroke-width="1.1"/>
<text x="38.80" y="502.25" font-size="8.8" text-anchor="end" stroke="#111" stroke-width="0.15">6</text>
<path d="M42.10 479.30L45.10 479.30" stroke="#111" stroke-width="1.1"/>
<text x="38.80" y="482.35" font-size="8.8" text-anchor="end" stroke="#111" stroke-width="0.15">8</text>
<path d="M44.40 558.90L164.10 558.90" stroke="#111" stroke-width="1.5"/>
<path d="M52.30 558.90L52.30 561.90" stroke="#111" stroke-width="1.1"/>
<path d="M66.90 558.90L66.90 561.90" stroke="#111" stroke-width="1.1"/>
<path d="M85.10 558.90L85.10 561.90" stroke="#111" stroke-width="1.1"/>
<path d="M107.90 558.90L107.90 561.90" stroke="#111" stroke-width="1.1"/>
<path d="M130.70 558.90L130.70 561.90" stroke="#111" stroke-width="1.1"/>
<path d="M153.50 558.90L153.50 561.90" stroke="#111" stroke-width="1.1"/>
<path d="M80.80 482.10L80.80 479.80L89.40 479.80L89.40 482.10" stroke="#111" stroke-width="1.2" fill="none"/>
<text x="85.10" y="477.80" font-size="7.8" text-anchor="middle" textLength="11.60" lengthAdjust="spacingAndGlyphs" stroke="#222" stroke-width="0.15">n.s.</text>
<path d="M103.60 482.10L103.60 479.80L112.20 479.80L112.20 482.10" stroke="#111" stroke-width="1.2" fill="none"/>
<text x="107.90" y="477.80" font-size="7.8" text-anchor="middle" textLength="11.60" lengthAdjust="spacingAndGlyphs" stroke="#222" stroke-width="0.15">n.s.</text>
<path d="M126.40 482.10L126.40 479.80L135.00 479.80L135.00 482.10" stroke="#111" stroke-width="1.2" fill="none"/>
<circle cx="126.75" cy="475.40" r="1.2" fill="#111"/>
<circle cx="130.70" cy="475.40" r="1.2" fill="#111"/>
<circle cx="134.65" cy="475.40" r="1.2" fill="#111"/>
<path d="M149.20 482.10L149.20 479.80L157.80 479.80L157.80 482.10" stroke="#111" stroke-width="1.2" fill="none"/>
<circle cx="151.53" cy="475.40" r="1.2" fill="#111"/>
<circle cx="155.47" cy="475.40" r="1.2" fill="#111"/>
<text x="103.70" y="465.00" font-size="10" font-weight="bold" text-anchor="middle" stroke="#111" stroke-width="0.18">COLON</text>
<rect x="122.15" y="469.20" width="17.1" height="89.70" fill="rgba(176,22,66,0.42)"/>
<text x="28.10" y="518.30" font-size="9.6" text-anchor="middle" transform="rotate(-90 28.10 518.30)" textLength="60.00" lengthAdjust="spacingAndGlyphs" stroke="#111" stroke-width="0.15">CD4+ area (%)</text>
<rect x="49.45" y="662.70" width="5.70" height="0.20" fill="#4b2a68" stroke="#1c1c30" stroke-width="0.45"/>
<path d="M52.30 662.50L52.30 662.37" stroke="#111" stroke-width="1.25"/>
<path d="M50.50 662.57L54.10 662.57" stroke="#111" stroke-width="1.6"/>
<rect x="64.05" y="659.78" width="5.70" height="3.12" fill="#b00c30" stroke="#1c1c30" stroke-width="0.45"/>
<path d="M66.90 659.58L66.90 658.92" stroke="#111" stroke-width="1.25"/>
<path d="M65.10 659.12L68.70 659.12" stroke="#111" stroke-width="1.6"/>
<rect x="78.00" y="659.12" width="6.00" height="3.78" fill="#2f4b80" stroke="#1c1c30" stroke-width="0.45"/>
<path d="M81.00 658.92L81.00 658.38" stroke="#111" stroke-width="1.25"/>
<path d="M79.20 658.58L82.80 658.58" stroke="#111" stroke-width="1.6"/>
<rect x="86.20" y="658.05" width="6.00" height="4.85" fill="#68aa3e" stroke="#1c1c30" stroke-width="0.45"/>
<path d="M89.20 657.85L89.20 657.32" stroke="#111" stroke-width="1.25"/>
<path d="M87.40 657.52L91.00 657.52" stroke="#111" stroke-width="1.6"/>
<rect x="100.80" y="662.44" width="6.00" height="0.46" fill="#2f4b80" stroke="#1c1c30" stroke-width="0.45"/>
<path d="M103.80 662.24L103.80 662.10" stroke="#111" stroke-width="1.25"/>
<path d="M102.00 662.30L105.60 662.30" stroke="#111" stroke-width="1.6"/>
<rect x="109.00" y="662.44" width="6.00" height="0.46" fill="#68aa3e" stroke="#1c1c30" stroke-width="0.45"/>
<path d="M112.00 662.24L112.00 662.10" stroke="#111" stroke-width="1.25"/>
<path d="M110.20 662.30L113.80 662.30" stroke="#111" stroke-width="1.6"/>
<rect x="123.60" y="661.51" width="6.00" height="1.39" fill="#2f4b80" stroke="#1c1c30" stroke-width="0.45"/>
<path d="M126.60 661.31L126.60 661.04" stroke="#111" stroke-width="1.25"/>
<path d="M124.80 661.24L128.40 661.24" stroke="#111" stroke-width="1.6"/>
<rect x="131.80" y="651.15" width="6.00" height="11.75" fill="#68aa3e" stroke="#1c1c30" stroke-width="0.45"/>
<path d="M134.80 650.95L134.80 649.22" stroke="#111" stroke-width="1.25"/>
<path d="M133.00 649.42L136.60 649.42" stroke="#111" stroke-width="1.6"/>
<rect x="146.40" y="659.78" width="6.00" height="3.12" fill="#2f4b80" stroke="#1c1c30" stroke-width="0.45"/>
<path d="M149.40 659.58L149.40 659.18" stroke="#111" stroke-width="1.25"/>
<path d="M147.60 659.38L151.20 659.38" stroke="#111" stroke-width="1.6"/>
<rect x="154.60" y="595.37" width="6.00" height="67.53" fill="#68aa3e" stroke="#1c1c30" stroke-width="0.45"/>
<path d="M157.60 595.17L157.60 587.20" stroke="#111" stroke-width="1.25"/>
<path d="M155.80 587.40L159.40 587.40" stroke="#111" stroke-width="1.6"/>
<path d="M45.10 580.62L45.10 663.60" stroke="#111" stroke-width="1.5"/>
<path d="M42.10 662.90L45.10 662.90" stroke="#111" stroke-width="1.1"/>
<text x="38.80" y="665.95" font-size="8.8" text-anchor="end" stroke="#111" stroke-width="0.15">0</text>
<path d="M42.10 636.34L45.10 636.34" stroke="#111" stroke-width="1.1"/>
<text x="38.80" y="639.39" font-size="8.8" text-anchor="end" stroke="#111" stroke-width="0.15">2</text>
<path d="M42.10 609.78L45.10 609.78" stroke="#111" stroke-width="1.1"/>
<text x="38.80" y="612.83" font-size="8.8" text-anchor="end" stroke="#111" stroke-width="0.15">4</text>
<path d="M42.10 583.22L45.10 583.22" stroke="#111" stroke-width="1.1"/>
<text x="38.80" y="586.27" font-size="8.8" text-anchor="end" stroke="#111" stroke-width="0.15">6</text>
<path d="M44.40 662.90L164.10 662.90" stroke="#111" stroke-width="1.5"/>
<path d="M52.30 662.90L52.30 665.90" stroke="#111" stroke-width="1.1"/>
<path d="M66.90 662.90L66.90 665.90" stroke="#111" stroke-width="1.1"/>
<path d="M85.10 662.90L85.10 665.90" stroke="#111" stroke-width="1.1"/>
<path d="M107.90 662.90L107.90 665.90" stroke="#111" stroke-width="1.1"/>
<path d="M130.70 662.90L130.70 665.90" stroke="#111" stroke-width="1.1"/>
<path d="M153.50 662.90L153.50 665.90" stroke="#111" stroke-width="1.1"/>
<path d="M80.80 586.02L80.80 583.72L89.40 583.72L89.40 586.02" stroke="#111" stroke-width="1.2" fill="none"/>
<text x="85.10" y="581.72" font-size="7.8" text-anchor="middle" textLength="11.60" lengthAdjust="spacingAndGlyphs" stroke="#222" stroke-width="0.15">n.s.</text>
<path d="M103.60 586.02L103.60 583.72L112.20 583.72L112.20 586.02" stroke="#111" stroke-width="1.2" fill="none"/>
<text x="107.90" y="581.72" font-size="7.8" text-anchor="middle" textLength="11.60" lengthAdjust="spacingAndGlyphs" stroke="#222" stroke-width="0.15">n.s.</text>
<path d="M126.40 586.02L126.40 583.72L135.00 583.72L135.00 586.02" stroke="#111" stroke-width="1.2" fill="none"/>
<circle cx="126.75" cy="579.32" r="1.2" fill="#111"/>
<circle cx="130.70" cy="579.32" r="1.2" fill="#111"/>
<circle cx="134.65" cy="579.32" r="1.2" fill="#111"/>
<path d="M149.20 586.02L149.20 583.72L157.80 583.72L157.80 586.02" stroke="#111" stroke-width="1.2" fill="none"/>
<circle cx="149.55" cy="579.32" r="1.2" fill="#111"/>
<circle cx="153.50" cy="579.32" r="1.2" fill="#111"/>
<circle cx="157.45" cy="579.32" r="1.2" fill="#111"/>
<rect x="122.15" y="573.12" width="17.1" height="89.78" fill="rgba(176,22,66,0.42)"/>
<text x="27.90" y="622.26" font-size="9.6" text-anchor="middle" transform="rotate(-90 27.90 622.26)" textLength="60.00" lengthAdjust="spacingAndGlyphs" stroke="#111" stroke-width="0.15">CD8+ area (%)</text>
<text x="55.40" y="672.10" font-size="8.8" text-anchor="end" transform="rotate(-45 55.40 672.10)" textLength="19.43" lengthAdjust="spacingAndGlyphs" stroke="#111" stroke-width="0.15">Naive</text>
<text x="70.00" y="672.10" font-size="8.8" text-anchor="end" transform="rotate(-45 70.00 672.10)" textLength="24.50" lengthAdjust="spacingAndGlyphs" stroke="#111" stroke-width="0.15">Chemo</text>
<text x="88.20" y="672.10" font-size="8.8" text-anchor="end" transform="rotate(-45 88.20 672.10)" textLength="12.89" lengthAdjust="spacingAndGlyphs" stroke="#111" stroke-width="0.15">d+2</text>
<text x="111.00" y="672.10" font-size="8.8" text-anchor="end" transform="rotate(-45 111.00 672.10)" textLength="12.89" lengthAdjust="spacingAndGlyphs" stroke="#111" stroke-width="0.15">d+5</text>
<text x="133.80" y="672.10" font-size="8.8" text-anchor="end" transform="rotate(-45 133.80 672.10)" textLength="12.89" lengthAdjust="spacingAndGlyphs" stroke="#111" stroke-width="0.15">d+7</text>
<text x="156.60" y="672.10" font-size="8.8" text-anchor="end" transform="rotate(-45 156.60 672.10)" textLength="17.12" lengthAdjust="spacingAndGlyphs" stroke="#111" stroke-width="0.15">d+15</text>
<rect x="203.25" y="554.98" width="5.70" height="4.12" fill="#4b2a68" stroke="#1c1c30" stroke-width="0.45"/>
<path d="M206.10 554.78L206.10 551.74" stroke="#111" stroke-width="1.25"/>
<path d="M204.30 551.94L207.90 551.94" stroke="#111" stroke-width="1.6"/>
<rect x="218.05" y="558.98" width="5.70" height="0.12" fill="#b00c30" stroke="#1c1c30" stroke-width="0.45"/>
<path d="M220.90 558.78L220.90 558.62" stroke="#111" stroke-width="1.25"/>
<path d="M219.10 558.82L222.70 558.82" stroke="#111" stroke-width="1.6"/>
<rect x="232.20" y="557.70" width="6.00" height="1.40" fill="#2f4b80" stroke="#1c1c30" stroke-width="0.45"/>
<path d="M235.20 557.50L235.20 557.18" stroke="#111" stroke-width="1.25"/>
<path d="M233.40 557.38L237.00 557.38" stroke="#111" stroke-width="1.6"/>
<rect x="240.40" y="558.50" width="6.00" height="0.60" fill="#68aa3e" stroke="#1c1c30" stroke-width="0.45"/>
<path d="M243.40 558.30L243.40 558.14" stroke="#111" stroke-width="1.25"/>
<path d="M241.60 558.34L245.20 558.34" stroke="#111" stroke-width="1.6"/>
<rect x="254.80" y="553.70" width="6.00" height="5.40" fill="#2f4b80" stroke="#1c1c30" stroke-width="0.45"/>
<path d="M257.80 553.50L257.80 553.02" stroke="#111" stroke-width="1.25"/>
<path d="M256.00 553.22L259.60 553.22" stroke="#111" stroke-width="1.6"/>
<rect x="263.00" y="554.98" width="6.00" height="4.12" fill="#68aa3e" stroke="#1c1c30" stroke-width="0.45"/>
<path d="M266.00 554.78L266.00 554.30" stroke="#111" stroke-width="1.25"/>
<path d="M264.20 554.50L267.80 554.50" stroke="#111" stroke-width="1.6"/>
<rect x="277.60" y="552.58" width="6.00" height="6.52" fill="#2f4b80" stroke="#1c1c30" stroke-width="0.45"/>
<path d="M280.60 552.38L280.60 549.50" stroke="#111" stroke-width="1.25"/>
<path d="M278.80 549.70L282.40 549.70" stroke="#111" stroke-width="1.6"/>
<rect x="285.80" y="553.70" width="6.00" height="5.40" fill="#68aa3e" stroke="#1c1c30" stroke-width="0.45"/>
<path d="M288.80 553.50L288.80 551.58" stroke="#111" stroke-width="1.25"/>
<path d="M287.00 551.78L290.60 551.78" stroke="#111" stroke-width="1.6"/>
<rect x="300.40" y="551.30" width="6.00" height="7.80" fill="#2f4b80" stroke="#1c1c30" stroke-width="0.45"/>
<path d="M303.40 551.10L303.40 550.78" stroke="#111" stroke-width="1.25"/>
<path d="M301.60 550.98L305.20 550.98" stroke="#111" stroke-width="1.6"/>
<rect x="308.60" y="495.30" width="6.00" height="63.80" fill="#68aa3e" stroke="#1c1c30" stroke-width="0.45"/>
<path d="M311.60 495.10L311.60 487.10" stroke="#111" stroke-width="1.25"/>
<path d="M309.80 487.30L313.40 487.30" stroke="#111" stroke-width="1.6"/>
<path d="M199.10 476.50L199.10 559.80" stroke="#111" stroke-width="1.5"/>
<path d="M196.10 559.10L199.10 559.10" stroke="#111" stroke-width="1.1"/>
<text x="192.80" y="562.15" font-size="8.8" text-anchor="end" stroke="#111" stroke-width="0.15">0</text>
<path d="M196.10 543.10L199.10 543.10" stroke="#111" stroke-width="1.1"/>
<text x="192.80" y="546.15" font-size="8.8" text-anchor="end" stroke="#111" stroke-width="0.15">1</text>
<path d="M196.10 527.10L199.10 527.10" stroke="#111" stroke-width="1.1"/>
<text x="192.80" y="530.15" font-size="8.8" text-anchor="end" stroke="#111" stroke-width="0.15">2</text>
<path d="M196.10 511.10L199.10 511.10" stroke="#111" stroke-width="1.1"/>
<text x="192.80" y="514.15" font-size="8.8" text-anchor="end" stroke="#111" stroke-width="0.15">3</text>
<path d="M196.10 495.10L199.10 495.10" stroke="#111" stroke-width="1.1"/>
<text x="192.80" y="498.15" font-size="8.8" text-anchor="end" stroke="#111" stroke-width="0.15">4</text>
<path d="M196.10 479.10L199.10 479.10" stroke="#111" stroke-width="1.1"/>
<text x="192.80" y="482.15" font-size="8.8" text-anchor="end" stroke="#111" stroke-width="0.15">5</text>
<path d="M198.40 559.10L318.00 559.10" stroke="#111" stroke-width="1.5"/>
<path d="M206.10 559.10L206.10 562.10" stroke="#111" stroke-width="1.1"/>
<path d="M220.90 559.10L220.90 562.10" stroke="#111" stroke-width="1.1"/>
<path d="M239.30 559.10L239.30 562.10" stroke="#111" stroke-width="1.1"/>
<path d="M261.90 559.10L261.90 562.10" stroke="#111" stroke-width="1.1"/>
<path d="M284.70 559.10L284.70 562.10" stroke="#111" stroke-width="1.1"/>
<path d="M307.50 559.10L307.50 562.10" stroke="#111" stroke-width="1.1"/>
<path d="M235.00 481.90L235.00 479.60L243.60 479.60L243.60 481.90" stroke="#111" stroke-width="1.2" fill="none"/>
<text x="239.30" y="477.60" font-size="7.8" text-anchor="middle" textLength="11.60" lengthAdjust="spacingAndGlyphs" stroke="#222" stroke-width="0.15">n.s.</text>
<path d="M257.60 481.90L257.60 479.60L266.20 479.60L266.20 481.90" stroke="#111" stroke-width="1.2" fill="none"/>
<text x="261.90" y="477.60" font-size="7.8" text-anchor="middle" textLength="11.60" lengthAdjust="spacingAndGlyphs" stroke="#222" stroke-width="0.15">n.s.</text>
<path d="M280.40 481.90L280.40 479.60L289.00 479.60L289.00 481.90" stroke="#111" stroke-width="1.2" fill="none"/>
<text x="284.70" y="477.60" font-size="7.8" text-anchor="middle" textLength="11.60" lengthAdjust="spacingAndGlyphs" stroke="#222" stroke-width="0.15">n.s.</text>
<path d="M303.20 481.90L303.20 479.60L311.80 479.60L311.80 481.90" stroke="#111" stroke-width="1.2" fill="none"/>
<circle cx="303.55" cy="475.20" r="1.2" fill="#111"/>
<circle cx="307.50" cy="475.20" r="1.2" fill="#111"/>
<circle cx="311.45" cy="475.20" r="1.2" fill="#111"/>
<text x="257.00" y="464.40" font-size="10" font-weight="bold" text-anchor="middle" stroke="#111" stroke-width="0.18">SKIN</text>
<rect x="298.95" y="469.00" width="17.1" height="90.10" fill="rgba(176,22,66,0.42)"/>
<text x="182.30" y="518.30" font-size="9.6" text-anchor="middle" transform="rotate(-90 182.30 518.30)" textLength="60.00" lengthAdjust="spacingAndGlyphs" stroke="#111" stroke-width="0.15">CD4+ area (%)</text>
<rect x="203.25" y="663.10" width="5.70" height="0.01" fill="#4b2a68" stroke="#1c1c30" stroke-width="0.45"/>
<path d="M206.10 662.90L206.10 662.70" stroke="#111" stroke-width="1.25"/>
<path d="M204.30 662.90L207.90 662.90" stroke="#111" stroke-width="1.6"/>
<rect x="218.05" y="662.50" width="5.70" height="0.40" fill="#b00c30" stroke="#1c1c30" stroke-width="0.45"/>
<path d="M220.90 662.30L220.90 662.10" stroke="#111" stroke-width="1.25"/>
<path d="M219.10 662.30L222.70 662.30" stroke="#111" stroke-width="1.6"/>
<rect x="232.20" y="662.70" width="6.00" height="0.20" fill="#2f4b80" stroke="#1c1c30" stroke-width="0.45"/>
<path d="M235.20 662.50L235.20 662.30" stroke="#111" stroke-width="1.25"/>
<path d="M233.40 662.50L237.00 662.50" stroke="#111" stroke-width="1.6"/>
<rect x="240.40" y="662.90" width="6.00" height="0.01" fill="#68aa3e" stroke="#1c1c30" stroke-width="0.45"/>
<path d="M243.40 662.70L243.40 662.50" stroke="#111" stroke-width="1.25"/>
<path d="M241.60 662.70L245.20 662.70" stroke="#111" stroke-width="1.6"/>
<rect x="254.80" y="662.50" width="6.00" height="0.40" fill="#2f4b80" stroke="#1c1c30" stroke-width="0.45"/>
<path d="M257.80 662.30L257.80 662.10" stroke="#111" stroke-width="1.25"/>
<path d="M256.00 662.30L259.60 662.30" stroke="#111" stroke-width="1.6"/>
<rect x="263.00" y="662.50" width="6.00" height="0.40" fill="#68aa3e" stroke="#1c1c30" stroke-width="0.45"/>
<path d="M266.00 662.30L266.00 662.10" stroke="#111" stroke-width="1.25"/>
<path d="M264.20 662.30L267.80 662.30" stroke="#111" stroke-width="1.6"/>
<rect x="277.60" y="662.90" width="6.00" height="0.01" fill="#2f4b80" stroke="#1c1c30" stroke-width="0.45"/>
<path d="M280.60 662.70L280.60 662.50" stroke="#111" stroke-width="1.25"/>
<path d="M278.80 662.70L282.40 662.70" stroke="#111" stroke-width="1.6"/>
<rect x="285.80" y="662.30" width="6.00" height="0.60" fill="#68aa3e" stroke="#1c1c30" stroke-width="0.45"/>
<path d="M288.80 662.10L288.80 661.90" stroke="#111" stroke-width="1.25"/>
<path d="M287.00 662.10L290.60 662.10" stroke="#111" stroke-width="1.6"/>
<rect x="300.40" y="662.70" width="6.00" height="0.20" fill="#2f4b80" stroke="#1c1c30" stroke-width="0.45"/>
<path d="M303.40 662.50L303.40 662.30" stroke="#111" stroke-width="1.25"/>
<path d="M301.60 662.50L305.20 662.50" stroke="#111" stroke-width="1.6"/>
<rect x="308.60" y="599.32" width="6.00" height="63.58" fill="#68aa3e" stroke="#1c1c30" stroke-width="0.45"/>
<path d="M311.60 599.12L311.60 592.15" stroke="#111" stroke-width="1.25"/>
<path d="M309.80 592.35L313.40 592.35" stroke="#111" stroke-width="1.6"/>
<path d="M199.10 580.58L199.10 663.60" stroke="#111" stroke-width="1.5"/>
<path d="M196.10 662.90L199.10 662.90" stroke="#111" stroke-width="1.1"/>
<text x="192.80" y="665.95" font-size="8.8" text-anchor="end" stroke="#111" stroke-width="0.15">0</text>
<path d="M196.10 642.97L199.10 642.97" stroke="#111" stroke-width="1.1"/>
<text x="192.80" y="646.02" font-size="8.8" text-anchor="end" stroke="#111" stroke-width="0.15">1</text>
<path d="M196.10 623.04L199.10 623.04" stroke="#111" stroke-width="1.1"/>
<text x="192.80" y="626.09" font-size="8.8" text-anchor="end" stroke="#111" stroke-width="0.15">2</text>
<path d="M196.10 603.11L199.10 603.11" stroke="#111" stroke-width="1.1"/>
<text x="192.80" y="606.16" font-size="8.8" text-anchor="end" stroke="#111" stroke-width="0.15">3</text>
<path d="M196.10 583.18L199.10 583.18" stroke="#111" stroke-width="1.1"/>
<text x="192.80" y="586.23" font-size="8.8" text-anchor="end" stroke="#111" stroke-width="0.15">4</text>
<path d="M198.40 662.90L318.00 662.90" stroke="#111" stroke-width="1.5"/>
<path d="M206.10 662.90L206.10 665.90" stroke="#111" stroke-width="1.1"/>
<path d="M220.90 662.90L220.90 665.90" stroke="#111" stroke-width="1.1"/>
<path d="M239.30 662.90L239.30 665.90" stroke="#111" stroke-width="1.1"/>
<path d="M261.90 662.90L261.90 665.90" stroke="#111" stroke-width="1.1"/>
<path d="M284.70 662.90L284.70 665.90" stroke="#111" stroke-width="1.1"/>
<path d="M307.50 662.90L307.50 665.90" stroke="#111" stroke-width="1.1"/>
<path d="M235.00 585.98L235.00 583.68L243.60 583.68L243.60 585.98" stroke="#111" stroke-width="1.2" fill="none"/>
<text x="239.30" y="581.68" font-size="7.8" text-anchor="middle" textLength="11.60" lengthAdjust="spacingAndGlyphs" stroke="#222" stroke-width="0.15">n.s.</text>
<path d="M257.60 585.98L257.60 583.68L266.20 583.68L266.20 585.98" stroke="#111" stroke-width="1.2" fill="none"/>
<text x="261.90" y="581.68" font-size="7.8" text-anchor="middle" textLength="11.60" lengthAdjust="spacingAndGlyphs" stroke="#222" stroke-width="0.15">n.s.</text>
<path d="M280.40 585.98L280.40 583.68L289.00 583.68L289.00 585.98" stroke="#111" stroke-width="1.2" fill="none"/>
<circle cx="282.72" cy="579.28" r="1.2" fill="#111"/>
<circle cx="286.68" cy="579.28" r="1.2" fill="#111"/>
<path d="M303.20 585.98L303.20 583.68L311.80 583.68L311.80 585.98" stroke="#111" stroke-width="1.2" fill="none"/>
<circle cx="303.55" cy="579.28" r="1.2" fill="#111"/>
<circle cx="307.50" cy="579.28" r="1.2" fill="#111"/>
<circle cx="311.45" cy="579.28" r="1.2" fill="#111"/>
<rect x="298.95" y="573.08" width="17.1" height="89.82" fill="rgba(176,22,66,0.42)"/>
<text x="182.30" y="622.24" font-size="9.6" text-anchor="middle" transform="rotate(-90 182.30 622.24)" textLength="60.00" lengthAdjust="spacingAndGlyphs" stroke="#111" stroke-width="0.15">CD8+ area (%)</text>
<text x="209.20" y="672.10" font-size="8.8" text-anchor="end" transform="rotate(-45 209.20 672.10)" textLength="19.43" lengthAdjust="spacingAndGlyphs" stroke="#111" stroke-width="0.15">Naive</text>
<text x="224.00" y="672.10" font-size="8.8" text-anchor="end" transform="rotate(-45 224.00 672.10)" textLength="24.50" lengthAdjust="spacingAndGlyphs" stroke="#111" stroke-width="0.15">Chemo</text>
<text x="242.40" y="672.10" font-size="8.8" text-anchor="end" transform="rotate(-45 242.40 672.10)" textLength="12.89" lengthAdjust="spacingAndGlyphs" stroke="#111" stroke-width="0.15">d+2</text>
<text x="265.00" y="672.10" font-size="8.8" text-anchor="end" transform="rotate(-45 265.00 672.10)" textLength="12.89" lengthAdjust="spacingAndGlyphs" stroke="#111" stroke-width="0.15">d+5</text>
<text x="287.80" y="672.10" font-size="8.8" text-anchor="end" transform="rotate(-45 287.80 672.10)" textLength="12.89" lengthAdjust="spacingAndGlyphs" stroke="#111" stroke-width="0.15">d+7</text>
<text x="310.60" y="672.10" font-size="8.8" text-anchor="end" transform="rotate(-45 310.60 672.10)" textLength="17.12" lengthAdjust="spacingAndGlyphs" stroke="#111" stroke-width="0.15">d+15</text>
<rect x="357.65" y="557.51" width="5.70" height="1.39" fill="#4b2a68" stroke="#1c1c30" stroke-width="0.45"/>
<path d="M360.50 557.31L360.50 556.91" stroke="#111" stroke-width="1.25"/>
<path d="M358.70 557.11L362.30 557.11" stroke="#111" stroke-width="1.6"/>
<rect x="372.15" y="556.71" width="5.70" height="2.19" fill="#b00c30" stroke="#1c1c30" stroke-width="0.45"/>
<path d="M375.00 556.51L375.00 556.11" stroke="#111" stroke-width="1.25"/>
<path d="M373.20 556.31L376.80 556.31" stroke="#111" stroke-width="1.6"/>
<rect x="386.00" y="557.90" width="6.00" height="1.00" fill="#2f4b80" stroke="#1c1c30" stroke-width="0.45"/>
<path d="M389.00 557.70L389.00 557.31" stroke="#111" stroke-width="1.25"/>
<path d="M387.20 557.51L390.80 557.51" stroke="#111" stroke-width="1.6"/>
<rect x="394.20" y="558.30" width="6.00" height="0.60" fill="#68aa3e" stroke="#1c1c30" stroke-width="0.45"/>
<path d="M397.20 558.10L397.20 557.70" stroke="#111" stroke-width="1.25"/>
<path d="M395.40 557.90L399.00 557.90" stroke="#111" stroke-width="1.6"/>
<rect x="408.70" y="557.51" width="6.00" height="1.39" fill="#2f4b80" stroke="#1c1c30" stroke-width="0.45"/>
<path d="M411.70 557.31L411.70 556.91" stroke="#111" stroke-width="1.25"/>
<path d="M409.90 557.11L413.50 557.11" stroke="#111" stroke-width="1.6"/>
<rect x="416.90" y="558.30" width="6.00" height="0.60" fill="#68aa3e" stroke="#1c1c30" stroke-width="0.45"/>
<path d="M419.90 558.10L419.90 557.70" stroke="#111" stroke-width="1.25"/>
<path d="M418.10 557.90L421.70 557.90" stroke="#111" stroke-width="1.6"/>
<rect x="431.70" y="557.51" width="6.00" height="1.39" fill="#2f4b80" stroke="#1c1c30" stroke-width="0.45"/>
<path d="M434.70 557.31L434.70 556.91" stroke="#111" stroke-width="1.25"/>
<path d="M432.90 557.11L436.50 557.11" stroke="#111" stroke-width="1.6"/>
<rect x="439.90" y="522.84" width="6.00" height="36.06" fill="#68aa3e" stroke="#1c1c30" stroke-width="0.45"/>
<path d="M442.90 522.64L442.90 519.45" stroke="#111" stroke-width="1.25"/>
<path d="M441.10 519.65L444.70 519.65" stroke="#111" stroke-width="1.6"/>
<rect x="454.40" y="552.33" width="6.00" height="6.57" fill="#2f4b80" stroke="#1c1c30" stroke-width="0.45"/>
<path d="M457.40 552.13L457.40 550.13" stroke="#111" stroke-width="1.25"/>
<path d="M455.60 550.33L459.20 550.33" stroke="#111" stroke-width="1.6"/>
<rect x="462.60" y="504.51" width="6.00" height="54.39" fill="#68aa3e" stroke="#1c1c30" stroke-width="0.45"/>
<path d="M465.60 504.31L465.60 495.54" stroke="#111" stroke-width="1.25"/>
<path d="M463.80 495.74L467.40 495.74" stroke="#111" stroke-width="1.6"/>
<path d="M353.40 476.60L353.40 559.60" stroke="#111" stroke-width="1.5"/>
<path d="M350.40 558.90L353.40 558.90" stroke="#111" stroke-width="1.1"/>
<text x="347.10" y="561.95" font-size="8.8" text-anchor="end" stroke="#111" stroke-width="0.15">0</text>
<path d="M350.40 519.05L353.40 519.05" stroke="#111" stroke-width="1.1"/>
<text x="347.10" y="522.10" font-size="8.8" text-anchor="end" stroke="#111" stroke-width="0.15">1</text>
<path d="M350.40 479.20L353.40 479.20" stroke="#111" stroke-width="1.1"/>
<text x="347.10" y="482.25" font-size="8.8" text-anchor="end" stroke="#111" stroke-width="0.15">2</text>
<path d="M352.70 558.90L472.10 558.90" stroke="#111" stroke-width="1.5"/>
<path d="M360.50 558.90L360.50 561.90" stroke="#111" stroke-width="1.1"/>
<path d="M375.00 558.90L375.00 561.90" stroke="#111" stroke-width="1.1"/>
<path d="M393.10 558.90L393.10 561.90" stroke="#111" stroke-width="1.1"/>
<path d="M415.80 558.90L415.80 561.90" stroke="#111" stroke-width="1.1"/>
<path d="M438.80 558.90L438.80 561.90" stroke="#111" stroke-width="1.1"/>
<path d="M461.50 558.90L461.50 561.90" stroke="#111" stroke-width="1.1"/>
<path d="M388.80 482.00L388.80 479.70L397.40 479.70L397.40 482.00" stroke="#111" stroke-width="1.2" fill="none"/>
<text x="393.10" y="477.70" font-size="7.8" text-anchor="middle" textLength="11.60" lengthAdjust="spacingAndGlyphs" stroke="#222" stroke-width="0.15">n.s.</text>
<path d="M411.50 482.00L411.50 479.70L420.10 479.70L420.10 482.00" stroke="#111" stroke-width="1.2" fill="none"/>
<text x="415.80" y="477.70" font-size="7.8" text-anchor="middle" textLength="11.60" lengthAdjust="spacingAndGlyphs" stroke="#222" stroke-width="0.15">n.s.</text>
<path d="M434.50 482.00L434.50 479.70L443.10 479.70L443.10 482.00" stroke="#111" stroke-width="1.2" fill="none"/>
<circle cx="434.85" cy="475.30" r="1.2" fill="#111"/>
<circle cx="438.80" cy="475.30" r="1.2" fill="#111"/>
<circle cx="442.75" cy="475.30" r="1.2" fill="#111"/>
<path d="M457.20 482.00L457.20 479.70L465.80 479.70L465.80 482.00" stroke="#111" stroke-width="1.2" fill="none"/>
<circle cx="457.55" cy="475.30" r="1.2" fill="#111"/>
<circle cx="461.50" cy="475.30" r="1.2" fill="#111"/>
<circle cx="465.45" cy="475.30" r="1.2" fill="#111"/>
<text x="410.40" y="464.00" font-size="10" font-weight="bold" text-anchor="middle" stroke="#111" stroke-width="0.18">LIVER</text>
<rect x="430.25" y="469.10" width="17.1" height="89.80" fill="rgba(176,22,66,0.42)"/>
<text x="337.10" y="518.25" font-size="9.6" text-anchor="middle" transform="rotate(-90 337.10 518.25)" textLength="60.00" lengthAdjust="spacingAndGlyphs" stroke="#111" stroke-width="0.15">CD4+ area (%)</text>
<rect x="357.65" y="662.83" width="5.70" height="0.07" fill="#4b2a68" stroke="#1c1c30" stroke-width="0.45"/>
<path d="M360.50 662.63L360.50 662.37" stroke="#111" stroke-width="1.25"/>
<path d="M358.70 662.57L362.30 662.57" stroke="#111" stroke-width="1.6"/>
<rect x="372.15" y="662.30" width="5.70" height="0.60" fill="#b00c30" stroke="#1c1c30" stroke-width="0.45"/>
<path d="M375.00 662.10L375.00 661.84" stroke="#111" stroke-width="1.25"/>
<path d="M373.20 662.04L376.80 662.04" stroke="#111" stroke-width="1.6"/>
<rect x="386.00" y="662.57" width="6.00" height="0.33" fill="#2f4b80" stroke="#1c1c30" stroke-width="0.45"/>
<path d="M389.00 662.37L389.00 662.10" stroke="#111" stroke-width="1.25"/>
<path d="M387.20 662.30L390.80 662.30" stroke="#111" stroke-width="1.6"/>
<rect x="394.20" y="662.83" width="6.00" height="0.07" fill="#68aa3e" stroke="#1c1c30" stroke-width="0.45"/>
<path d="M397.20 662.63L397.20 662.37" stroke="#111" stroke-width="1.25"/>
<path d="M395.40 662.57L399.00 662.57" stroke="#111" stroke-width="1.6"/>
<rect x="408.70" y="662.83" width="6.00" height="0.07" fill="#2f4b80" stroke="#1c1c30" stroke-width="0.45"/>
<path d="M411.70 662.63L411.70 662.37" stroke="#111" stroke-width="1.25"/>
<path d="M409.90 662.57L413.50 662.57" stroke="#111" stroke-width="1.6"/>
<rect x="416.90" y="662.57" width="6.00" height="0.33" fill="#68aa3e" stroke="#1c1c30" stroke-width="0.45"/>
<path d="M419.90 662.37L419.90 662.10" stroke="#111" stroke-width="1.25"/>
<path d="M418.10 662.30L421.70 662.30" stroke="#111" stroke-width="1.6"/>
<rect x="431.70" y="662.30" width="6.00" height="0.60" fill="#2f4b80" stroke="#1c1c30" stroke-width="0.45"/>
<path d="M434.70 662.10L434.70 661.84" stroke="#111" stroke-width="1.25"/>
<path d="M432.90 662.04L436.50 662.04" stroke="#111" stroke-width="1.6"/>
<rect x="439.90" y="653.54" width="6.00" height="9.36" fill="#68aa3e" stroke="#1c1c30" stroke-width="0.45"/>
<path d="M442.90 653.34L442.90 652.28" stroke="#111" stroke-width="1.25"/>
<path d="M441.10 652.48L444.70 652.48" stroke="#111" stroke-width="1.6"/>
<rect x="454.40" y="662.83" width="6.00" height="0.07" fill="#2f4b80" stroke="#1c1c30" stroke-width="0.45"/>
<path d="M457.40 662.63L457.40 662.37" stroke="#111" stroke-width="1.25"/>
<path d="M455.60 662.57L459.20 662.57" stroke="#111" stroke-width="1.6"/>
<rect x="462.60" y="609.20" width="6.00" height="53.70" fill="#68aa3e" stroke="#1c1c30" stroke-width="0.45"/>
<path d="M465.60 609.00L465.60 601.04" stroke="#111" stroke-width="1.25"/>
<path d="M463.80 601.24L467.40 601.24" stroke="#111" stroke-width="1.6"/>
<path d="M353.40 580.65L353.40 663.60" stroke="#111" stroke-width="1.5"/>
<path d="M350.40 662.90L353.40 662.90" stroke="#111" stroke-width="1.1"/>
<text x="347.10" y="665.95" font-size="8.8" text-anchor="end" stroke="#111" stroke-width="0.15">0</text>
<path d="M350.40 636.35L353.40 636.35" stroke="#111" stroke-width="1.1"/>
<text x="347.10" y="639.40" font-size="8.8" text-anchor="end" stroke="#111" stroke-width="0.15">1</text>
<path d="M350.40 609.80L353.40 609.80" stroke="#111" stroke-width="1.1"/>
<text x="347.10" y="612.85" font-size="8.8" text-anchor="end" stroke="#111" stroke-width="0.15">2</text>
<path d="M350.40 583.25L353.40 583.25" stroke="#111" stroke-width="1.1"/>
<text x="347.10" y="586.30" font-size="8.8" text-anchor="end" stroke="#111" stroke-width="0.15">3</text>
<path d="M352.70 662.90L472.10 662.90" stroke="#111" stroke-width="1.5"/>
<path d="M360.50 662.90L360.50 665.90" stroke="#111" stroke-width="1.1"/>
<path d="M375.00 662.90L375.00 665.90" stroke="#111" stroke-width="1.1"/>
<path d="M393.10 662.90L393.10 665.90" stroke="#111" stroke-width="1.1"/>
<path d="M415.80 662.90L415.80 665.90" stroke="#111" stroke-width="1.1"/>
<path d="M438.80 662.90L438.80 665.90" stroke="#111" stroke-width="1.1"/>
<path d="M461.50 662.90L461.50 665.90" stroke="#111" stroke-width="1.1"/>
<path d="M388.80 586.05L388.80 583.75L397.40 583.75L397.40 586.05" stroke="#111" stroke-width="1.2" fill="none"/>
<text x="393.10" y="581.75" font-size="7.8" text-anchor="middle" textLength="11.60" lengthAdjust="spacingAndGlyphs" stroke="#222" stroke-width="0.15">n.s.</text>
<path d="M411.50 586.05L411.50 583.75L420.10 583.75L420.10 586.05" stroke="#111" stroke-width="1.2" fill="none"/>
<text x="415.80" y="581.75" font-size="7.8" text-anchor="middle" textLength="11.60" lengthAdjust="spacingAndGlyphs" stroke="#222" stroke-width="0.15">n.s.</text>
<path d="M434.50 586.05L434.50 583.75L443.10 583.75L443.10 586.05" stroke="#111" stroke-width="1.2" fill="none"/>
<circle cx="434.85" cy="579.35" r="1.2" fill="#111"/>
<circle cx="438.80" cy="579.35" r="1.2" fill="#111"/>
<circle cx="442.75" cy="579.35" r="1.2" fill="#111"/>
<path d="M457.20 586.05L457.20 583.75L465.80 583.75L465.80 586.05" stroke="#111" stroke-width="1.2" fill="none"/>
<circle cx="457.55" cy="579.35" r="1.2" fill="#111"/>
<circle cx="461.50" cy="579.35" r="1.2" fill="#111"/>
<circle cx="465.45" cy="579.35" r="1.2" fill="#111"/>
<rect x="430.25" y="573.15" width="17.1" height="89.75" fill="rgba(176,22,66,0.42)"/>
<text x="336.70" y="622.28" font-size="9.6" text-anchor="middle" transform="rotate(-90 336.70 622.28)" textLength="60.00" lengthAdjust="spacingAndGlyphs" stroke="#111" stroke-width="0.15">CD8+ area (%)</text>
<text x="363.60" y="672.10" font-size="8.8" text-anchor="end" transform="rotate(-45 363.60 672.10)" textLength="19.43" lengthAdjust="spacingAndGlyphs" stroke="#111" stroke-width="0.15">Naive</text>
<text x="378.10" y="672.10" font-size="8.8" text-anchor="end" transform="rotate(-45 378.10 672.10)" textLength="24.50" lengthAdjust="spacingAndGlyphs" stroke="#111" stroke-width="0.15">Chemo</text>
<text x="396.20" y="672.10" font-size="8.8" text-anchor="end" transform="rotate(-45 396.20 672.10)" textLength="12.89" lengthAdjust="spacingAndGlyphs" stroke="#111" stroke-width="0.15">d+2</text>
<text x="418.90" y="672.10" font-size="8.8" text-anchor="end" transform="rotate(-45 418.90 672.10)" textLength="12.89" lengthAdjust="spacingAndGlyphs" stroke="#111" stroke-width="0.15">d+5</text>
<text x="441.90" y="672.10" font-size="8.8" text-anchor="end" transform="rotate(-45 441.90 672.10)" textLength="12.89" lengthAdjust="spacingAndGlyphs" stroke="#111" stroke-width="0.15">d+7</text>
<text x="464.60" y="672.10" font-size="8.8" text-anchor="end" transform="rotate(-45 464.60 672.10)" textLength="17.12" lengthAdjust="spacingAndGlyphs" stroke="#111" stroke-width="0.15">d+15</text>
<rect x="481.00" y="648.20" width="8.30" height="3.30" fill="#2f4b80" stroke="#1c1c30" stroke-width="0.45"/>
<rect x="481.00" y="656.80" width="8.30" height="3.30" fill="#68aa3e" stroke="#1c1c30" stroke-width="0.45"/>
<text x="492.60" y="652.30" font-size="8.4" textLength="15.01" lengthAdjust="spacingAndGlyphs" stroke="#111" stroke-width="0.15">SYN</text>
<text x="492.60" y="660.90" font-size="8.4" textLength="18.67" lengthAdjust="spacingAndGlyphs" stroke="#111" stroke-width="0.15">ALLO</text>
<text x="104.50" y="705.30" font-size="11.6" text-anchor="middle" textLength="57.00" lengthAdjust="spacingAndGlyphs" stroke="#111" stroke-width="0.15">Day post-BMT</text>
<text x="258.60" y="705.30" font-size="11.6" text-anchor="middle" textLength="57.00" lengthAdjust="spacingAndGlyphs" stroke="#111" stroke-width="0.15">Day post-BMT</text>
<text x="412.50" y="705.30" font-size="11.6" text-anchor="middle" textLength="57.00" lengthAdjust="spacingAndGlyphs" stroke="#111" stroke-width="0.15">Day post-BMT</text>
<text x="410.30" y="18.80" font-size="10" font-weight="bold" text-anchor="middle" stroke="#111" stroke-width="0.18">MUSCLE</text>
<rect x="364.60" y="61.82" width="7.40" height="41.88" fill="#b00c30" stroke="#1c1c30" stroke-width="0.45"/>
<path d="M368.30 61.62L368.30 60.61" stroke="#111" stroke-width="1.25"/>
<path d="M366.10 60.81L370.50 60.81" stroke="#111" stroke-width="1.6"/>
<rect x="382.65" y="51.34" width="7.10" height="52.36" fill="#2f4b80" stroke="#1c1c30" stroke-width="0.45"/>
<path d="M386.20 51.14L386.20 45.56" stroke="#111" stroke-width="1.25"/>
<path d="M384.00 45.76L388.40 45.76" stroke="#111" stroke-width="1.6"/>
<rect x="392.65" y="54.05" width="7.10" height="49.65" fill="#68aa3e" stroke="#1c1c30" stroke-width="0.45"/>
<path d="M396.20 53.85L396.20 47.42" stroke="#111" stroke-width="1.25"/>
<path d="M394.00 47.62L398.40 47.62" stroke="#111" stroke-width="1.6"/>
<rect x="410.70" y="64.19" width="7.10" height="39.51" fill="#2f4b80" stroke="#1c1c30" stroke-width="0.45"/>
<path d="M414.25 63.99L414.25 57.73" stroke="#111" stroke-width="1.25"/>
<path d="M412.05 57.93L416.45 57.93" stroke="#111" stroke-width="1.6"/>
<rect x="420.70" y="58.27" width="7.10" height="45.43" fill="#68aa3e" stroke="#1c1c30" stroke-width="0.45"/>
<path d="M424.25 58.07L424.25 57.06" stroke="#111" stroke-width="1.25"/>
<path d="M422.05 57.26L426.45 57.26" stroke="#111" stroke-width="1.6"/>
<rect x="438.85" y="63.00" width="7.10" height="40.70" fill="#2f4b80" stroke="#1c1c30" stroke-width="0.45"/>
<path d="M442.40 62.80L442.40 55.87" stroke="#111" stroke-width="1.25"/>
<path d="M440.20 56.07L444.60 56.07" stroke="#111" stroke-width="1.6"/>
<rect x="448.85" y="63.00" width="7.10" height="40.70" fill="#68aa3e" stroke="#1c1c30" stroke-width="0.45"/>
<path d="M452.40 62.80L452.40 55.20" stroke="#111" stroke-width="1.25"/>
<path d="M450.20 55.40L454.60 55.40" stroke="#111" stroke-width="1.6"/>
<path d="M359.30 33.50L359.30 104.40" stroke="#111" stroke-width="1.5"/>
<path d="M356.30 103.70L359.30 103.70" stroke="#111" stroke-width="1.1"/>
<text x="352.50" y="106.75" font-size="9.0" text-anchor="end" stroke="#111" stroke-width="0.15">0</text>
<path d="M356.30 86.80L359.30 86.80" stroke="#111" stroke-width="1.1"/>
<text x="352.50" y="89.85" font-size="9.0" text-anchor="end" stroke="#111" stroke-width="0.15">1</text>
<path d="M356.30 69.90L359.30 69.90" stroke="#111" stroke-width="1.1"/>
<text x="352.50" y="72.95" font-size="9.0" text-anchor="end" stroke="#111" stroke-width="0.15">2</text>
<path d="M356.30 53.00L359.30 53.00" stroke="#111" stroke-width="1.1"/>
<text x="352.50" y="56.05" font-size="9.0" text-anchor="end" stroke="#111" stroke-width="0.15">3</text>
<path d="M356.30 36.10L359.30 36.10" stroke="#111" stroke-width="1.1"/>
<text x="352.50" y="39.15" font-size="9.0" text-anchor="end" stroke="#111" stroke-width="0.15">4</text>
<path d="M358.60 103.70L461.20 103.70" stroke="#111" stroke-width="1.5"/>
<path d="M368.30 103.70L368.30 106.70" stroke="#111" stroke-width="1.1"/>
<path d="M391.20 103.70L391.20 106.70" stroke="#111" stroke-width="1.1"/>
<path d="M419.25 103.70L419.25 106.70" stroke="#111" stroke-width="1.1"/>
<path d="M447.40 103.70L447.40 106.70" stroke="#111" stroke-width="1.1"/>
<path d="M386.20 39.40L386.20 37.00L396.20 37.00L396.20 39.40" stroke="#111" stroke-width="1.2" fill="none"/>
<text x="391.20" y="34.50" font-size="8" text-anchor="middle" textLength="12.00" lengthAdjust="spacingAndGlyphs" stroke="#222" stroke-width="0.15">n.s.</text>
<path d="M414.25 39.40L414.25 37.00L424.25 37.00L424.25 39.40" stroke="#111" stroke-width="1.2" fill="none"/>
<text x="419.25" y="34.50" font-size="8" text-anchor="middle" textLength="12.00" lengthAdjust="spacingAndGlyphs" stroke="#222" stroke-width="0.15">n.s.</text>
<path d="M442.40 39.40L442.40 37.00L452.40 37.00L452.40 39.40" stroke="#111" stroke-width="1.2" fill="none"/>
<text x="447.40" y="34.50" font-size="8" text-anchor="middle" textLength="12.00" lengthAdjust="spacingAndGlyphs" stroke="#222" stroke-width="0.15">n.s.</text>
<text x="342.90" y="69.40" font-size="9.6" text-anchor="middle" transform="rotate(-90 342.90 69.40)" textLength="63.50" lengthAdjust="spacingAndGlyphs" stroke="#111" stroke-width="0.15">CD31+ area (%)</text>
<text x="368.40" y="113.00" font-size="8.8" text-anchor="end" transform="rotate(-45 368.40 113.00)" textLength="19.43" lengthAdjust="spacingAndGlyphs" stroke="#111" stroke-width="0.15">Naive</text>
<text x="391.30" y="113.00" font-size="8.8" text-anchor="end" transform="rotate(-45 391.30 113.00)" textLength="12.89" lengthAdjust="spacingAndGlyphs" stroke="#111" stroke-width="0.15">d+2</text>
<text x="419.35" y="113.00" font-size="8.8" text-anchor="end" transform="rotate(-45 419.35 113.00)" textLength="12.89" lengthAdjust="spacingAndGlyphs" stroke="#111" stroke-width="0.15">d+7</text>
<text x="447.50" y="113.00" font-size="8.8" text-anchor="end" transform="rotate(-45 447.50 113.00)" textLength="17.12" lengthAdjust="spacingAndGlyphs" stroke="#111" stroke-width="0.15">d+15</text>
<text x="410.00" y="139.50" font-size="11.6" text-anchor="middle" textLength="56.50" lengthAdjust="spacingAndGlyphs" stroke="#111" stroke-width="0.15">Day post-BMT</text>
<rect x="467.50" y="91.20" width="8.10" height="3.90" fill="#2f4b80" stroke="#1c1c30" stroke-width="0.45"/>
<rect x="467.50" y="99.90" width="8.10" height="3.90" fill="#68aa3e" stroke="#1c1c30" stroke-width="0.45"/>
<text x="478.70" y="95.90" font-size="8.6" textLength="15.42" lengthAdjust="spacingAndGlyphs" stroke="#111" stroke-width="0.15">SYN</text>
<text x="478.70" y="104.60" font-size="8.6" textLength="19.18" lengthAdjust="spacingAndGlyphs" stroke="#111" stroke-width="0.15">ALLO</text>
<text x="410.30" y="168.70" font-size="10" font-weight="bold" text-anchor="middle" stroke="#111" stroke-width="0.18">CARDIAC MUSCLE</text>
<rect x="364.60" y="216.81" width="7.40" height="36.39" fill="#b00c30" stroke="#1c1c30" stroke-width="0.45"/>
<path d="M368.30 216.61L368.30 211.36" stroke="#111" stroke-width="1.25"/>
<path d="M366.10 211.56L370.50 211.56" stroke="#111" stroke-width="1.6"/>
<rect x="382.65" y="215.88" width="7.10" height="37.32" fill="#2f4b80" stroke="#1c1c30" stroke-width="0.45"/>
<path d="M386.20 215.68L386.20 213.22" stroke="#111" stroke-width="1.25"/>
<path d="M384.00 213.42L388.40 213.42" stroke="#111" stroke-width="1.6"/>
<rect x="392.65" y="212.24" width="7.10" height="40.96" fill="#68aa3e" stroke="#1c1c30" stroke-width="0.45"/>
<path d="M396.20 212.04L396.20 208.39" stroke="#111" stroke-width="1.25"/>
<path d="M394.00 208.59L398.40 208.59" stroke="#111" stroke-width="1.6"/>
<rect x="410.70" y="211.05" width="7.10" height="42.15" fill="#2f4b80" stroke="#1c1c30" stroke-width="0.45"/>
<path d="M414.25 210.85L414.25 208.31" stroke="#111" stroke-width="1.25"/>
<path d="M412.05 208.51L416.45 208.51" stroke="#111" stroke-width="1.6"/>
<rect x="420.70" y="205.12" width="7.10" height="48.08" fill="#68aa3e" stroke="#1c1c30" stroke-width="0.45"/>
<path d="M424.25 204.92L424.25 200.69" stroke="#111" stroke-width="1.25"/>
<path d="M422.05 200.89L426.45 200.89" stroke="#111" stroke-width="1.6"/>
<rect x="438.85" y="207.24" width="7.10" height="45.96" fill="#2f4b80" stroke="#1c1c30" stroke-width="0.45"/>
<path d="M442.40 207.04L442.40 202.38" stroke="#111" stroke-width="1.25"/>
<path d="M440.20 202.58L444.60 202.58" stroke="#111" stroke-width="1.6"/>
<rect x="448.85" y="198.51" width="7.10" height="54.69" fill="#68aa3e" stroke="#1c1c30" stroke-width="0.45"/>
<path d="M452.40 198.31L452.40 196.03" stroke="#111" stroke-width="1.25"/>
<path d="M450.20 196.23L454.60 196.23" stroke="#111" stroke-width="1.6"/>
<path d="M359.30 182.84L359.30 253.90" stroke="#111" stroke-width="1.5"/>
<path d="M356.30 253.20L359.30 253.20" stroke="#111" stroke-width="1.1"/>
<text x="352.50" y="256.25" font-size="9.0" text-anchor="end" stroke="#111" stroke-width="0.15">0</text>
<path d="M356.30 236.26L359.30 236.26" stroke="#111" stroke-width="1.1"/>
<text x="352.50" y="239.31" font-size="9.0" text-anchor="end" stroke="#111" stroke-width="0.15">2</text>
<path d="M356.30 219.32L359.30 219.32" stroke="#111" stroke-width="1.1"/>
<text x="352.50" y="222.37" font-size="9.0" text-anchor="end" stroke="#111" stroke-width="0.15">4</text>
<path d="M356.30 202.38L359.30 202.38" stroke="#111" stroke-width="1.1"/>
<text x="352.50" y="205.43" font-size="9.0" text-anchor="end" stroke="#111" stroke-width="0.15">6</text>
<path d="M356.30 185.44L359.30 185.44" stroke="#111" stroke-width="1.1"/>
<text x="352.50" y="188.49" font-size="9.0" text-anchor="end" stroke="#111" stroke-width="0.15">8</text>
<path d="M358.60 253.20L461.20 253.20" stroke="#111" stroke-width="1.5"/>
<path d="M368.30 253.20L368.30 256.20" stroke="#111" stroke-width="1.1"/>
<path d="M391.20 253.20L391.20 256.20" stroke="#111" stroke-width="1.1"/>
<path d="M419.25 253.20L419.25 256.20" stroke="#111" stroke-width="1.1"/>
<path d="M447.40 253.20L447.40 256.20" stroke="#111" stroke-width="1.1"/>
<path d="M386.20 188.74L386.20 186.34L396.20 186.34L396.20 188.74" stroke="#111" stroke-width="1.2" fill="none"/>
<text x="391.20" y="183.84" font-size="8" text-anchor="middle" textLength="12.00" lengthAdjust="spacingAndGlyphs" stroke="#222" stroke-width="0.15">n.s.</text>
<path d="M414.25 188.74L414.25 186.34L424.25 186.34L424.25 188.74" stroke="#111" stroke-width="1.2" fill="none"/>
<text x="419.25" y="183.84" font-size="8" text-anchor="middle" textLength="12.00" lengthAdjust="spacingAndGlyphs" stroke="#222" stroke-width="0.15">n.s.</text>
<path d="M442.40 188.74L442.40 186.34L452.40 186.34L452.40 188.74" stroke="#111" stroke-width="1.2" fill="none"/>
<text x="447.40" y="183.84" font-size="8" text-anchor="middle" textLength="12.00" lengthAdjust="spacingAndGlyphs" stroke="#222" stroke-width="0.15">n.s.</text>
<text x="342.90" y="218.82" font-size="9.6" text-anchor="middle" transform="rotate(-90 342.90 218.82)" textLength="63.50" lengthAdjust="spacingAndGlyphs" stroke="#111" stroke-width="0.15">CD31+ area (%)</text>
<text x="368.40" y="262.50" font-size="8.8" text-anchor="end" transform="rotate(-45 368.40 262.50)" textLength="19.43" lengthAdjust="spacingAndGlyphs" stroke="#111" stroke-width="0.15">Naive</text>
<text x="391.30" y="262.50" font-size="8.8" text-anchor="end" transform="rotate(-45 391.30 262.50)" textLength="12.89" lengthAdjust="spacingAndGlyphs" stroke="#111" stroke-width="0.15">d+2</text>
<text x="419.35" y="262.50" font-size="8.8" text-anchor="end" transform="rotate(-45 419.35 262.50)" textLength="12.89" lengthAdjust="spacingAndGlyphs" stroke="#111" stroke-width="0.15">d+7</text>
<text x="447.50" y="262.50" font-size="8.8" text-anchor="end" transform="rotate(-45 447.50 262.50)" textLength="17.12" lengthAdjust="spacingAndGlyphs" stroke="#111" stroke-width="0.15">d+15</text>
<text x="410.00" y="289.10" font-size="11.6" text-anchor="middle" textLength="56.50" lengthAdjust="spacingAndGlyphs" stroke="#111" stroke-width="0.15">Day post-BMT</text>
<rect x="467.50" y="240.70" width="8.10" height="3.90" fill="#2f4b80" stroke="#1c1c30" stroke-width="0.45"/>
<rect x="467.50" y="249.40" width="8.10" height="3.90" fill="#68aa3e" stroke="#1c1c30" stroke-width="0.45"/>
<text x="478.70" y="245.40" font-size="8.6" textLength="15.42" lengthAdjust="spacingAndGlyphs" stroke="#111" stroke-width="0.15">SYN</text>
<text x="478.70" y="254.10" font-size="8.6" textLength="19.18" lengthAdjust="spacingAndGlyphs" stroke="#111" stroke-width="0.15">ALLO</text>
<text x="410.30" y="318.30" font-size="10" font-weight="bold" text-anchor="middle" stroke="#111" stroke-width="0.18">JOINTS</text>
<rect x="364.60" y="354.79" width="7.40" height="44.61" fill="#b00c30" stroke="#1c1c30" stroke-width="0.45"/>
<path d="M368.30 354.59L368.30 349.69" stroke="#111" stroke-width="1.25"/>
<path d="M366.10 349.89L370.50 349.89" stroke="#111" stroke-width="1.6"/>
<rect x="382.65" y="350.98" width="7.10" height="48.42" fill="#2f4b80" stroke="#1c1c30" stroke-width="0.45"/>
<path d="M386.20 350.78L386.20 342.74" stroke="#111" stroke-width="1.25"/>
<path d="M384.00 342.94L388.40 342.94" stroke="#111" stroke-width="1.6"/>
<rect x="392.65" y="350.30" width="7.10" height="49.10" fill="#68aa3e" stroke="#1c1c30" stroke-width="0.45"/>
<path d="M396.20 350.10L396.20 344.92" stroke="#111" stroke-width="1.25"/>
<path d="M394.00 345.12L398.40 345.12" stroke="#111" stroke-width="1.6"/>
<rect x="410.70" y="353.56" width="7.10" height="45.84" fill="#2f4b80" stroke="#1c1c30" stroke-width="0.45"/>
<path d="M414.25 353.36L414.25 349.41" stroke="#111" stroke-width="1.25"/>
<path d="M412.05 349.61L416.45 349.61" stroke="#111" stroke-width="1.6"/>
<rect x="420.70" y="352.75" width="7.10" height="46.65" fill="#68aa3e" stroke="#1c1c30" stroke-width="0.45"/>
<path d="M424.25 352.55L424.25 344.92" stroke="#111" stroke-width="1.25"/>
<path d="M422.05 345.12L426.45 345.12" stroke="#111" stroke-width="1.6"/>
<rect x="438.85" y="357.38" width="7.10" height="42.02" fill="#2f4b80" stroke="#1c1c30" stroke-width="0.45"/>
<path d="M442.40 357.18L442.40 353.36" stroke="#111" stroke-width="1.25"/>
<path d="M440.20 353.56L444.60 353.56" stroke="#111" stroke-width="1.6"/>
<rect x="448.85" y="356.70" width="7.10" height="42.70" fill="#68aa3e" stroke="#1c1c30" stroke-width="0.45"/>
<path d="M452.40 356.50L452.40 353.09" stroke="#111" stroke-width="1.25"/>
<path d="M450.20 353.29L454.60 353.29" stroke="#111" stroke-width="1.6"/>
<path d="M359.30 328.70L359.30 400.10" stroke="#111" stroke-width="1.5"/>
<path d="M356.30 399.40L359.30 399.40" stroke="#111" stroke-width="1.1"/>
<text x="352.50" y="402.45" font-size="9.0" text-anchor="end" stroke="#111" stroke-width="0.15">0</text>
<path d="M356.30 385.78L359.30 385.78" stroke="#111" stroke-width="1.1"/>
<text x="352.50" y="388.83" font-size="9.0" text-anchor="end" stroke="#111" stroke-width="0.15">1</text>
<path d="M356.30 372.16L359.30 372.16" stroke="#111" stroke-width="1.1"/>
<text x="352.50" y="375.21" font-size="9.0" text-anchor="end" stroke="#111" stroke-width="0.15">2</text>
<path d="M356.30 358.54L359.30 358.54" stroke="#111" stroke-width="1.1"/>
<text x="352.50" y="361.59" font-size="9.0" text-anchor="end" stroke="#111" stroke-width="0.15">3</text>
<path d="M356.30 344.92L359.30 344.92" stroke="#111" stroke-width="1.1"/>
<text x="352.50" y="347.97" font-size="9.0" text-anchor="end" stroke="#111" stroke-width="0.15">4</text>
<path d="M356.30 331.30L359.30 331.30" stroke="#111" stroke-width="1.1"/>
<text x="352.50" y="334.35" font-size="9.0" text-anchor="end" stroke="#111" stroke-width="0.15">5</text>
<path d="M358.60 399.40L461.20 399.40" stroke="#111" stroke-width="1.5"/>
<path d="M368.30 399.40L368.30 402.40" stroke="#111" stroke-width="1.1"/>
<path d="M391.20 399.40L391.20 402.40" stroke="#111" stroke-width="1.1"/>
<path d="M419.25 399.40L419.25 402.40" stroke="#111" stroke-width="1.1"/>
<path d="M447.40 399.40L447.40 402.40" stroke="#111" stroke-width="1.1"/>
<path d="M386.20 334.60L386.20 332.20L396.20 332.20L396.20 334.60" stroke="#111" stroke-width="1.2" fill="none"/>
<text x="391.20" y="329.70" font-size="8" text-anchor="middle" textLength="12.00" lengthAdjust="spacingAndGlyphs" stroke="#222" stroke-width="0.15">n.s.</text>
<path d="M414.25 334.60L414.25 332.20L424.25 332.20L424.25 334.60" stroke="#111" stroke-width="1.2" fill="none"/>
<text x="419.25" y="329.70" font-size="8" text-anchor="middle" textLength="12.00" lengthAdjust="spacingAndGlyphs" stroke="#222" stroke-width="0.15">n.s.</text>
<path d="M442.40 334.60L442.40 332.20L452.40 332.20L452.40 334.60" stroke="#111" stroke-width="1.2" fill="none"/>
<text x="447.40" y="329.70" font-size="8" text-anchor="middle" textLength="12.00" lengthAdjust="spacingAndGlyphs" stroke="#222" stroke-width="0.15">n.s.</text>
<text x="342.90" y="364.85" font-size="9.6" text-anchor="middle" transform="rotate(-90 342.90 364.85)" textLength="63.50" lengthAdjust="spacingAndGlyphs" stroke="#111" stroke-width="0.15">CD31+ area (%)</text>
<text x="368.40" y="408.70" font-size="8.8" text-anchor="end" transform="rotate(-45 368.40 408.70)" textLength="19.43" lengthAdjust="spacingAndGlyphs" stroke="#111" stroke-width="0.15">Naive</text>
<text x="391.30" y="408.70" font-size="8.8" text-anchor="end" transform="rotate(-45 391.30 408.70)" textLength="12.89" lengthAdjust="spacingAndGlyphs" stroke="#111" stroke-width="0.15">d+2</text>
<text x="419.35" y="408.70" font-size="8.8" text-anchor="end" transform="rotate(-45 419.35 408.70)" textLength="12.89" lengthAdjust="spacingAndGlyphs" stroke="#111" stroke-width="0.15">d+7</text>
<text x="447.50" y="408.70" font-size="8.8" text-anchor="end" transform="rotate(-45 447.50 408.70)" textLength="17.12" lengthAdjust="spacingAndGlyphs" stroke="#111" stroke-width="0.15">d+15</text>
<text x="410.00" y="434.10" font-size="11.6" text-anchor="middle" textLength="56.50" lengthAdjust="spacingAndGlyphs" stroke="#111" stroke-width="0.15">Day post-BMT</text>
<rect x="467.50" y="386.90" width="8.10" height="3.90" fill="#2f4b80" stroke="#1c1c30" stroke-width="0.45"/>
<rect x="467.50" y="395.60" width="8.10" height="3.90" fill="#68aa3e" stroke="#1c1c30" stroke-width="0.45"/>
<text x="478.70" y="391.60" font-size="8.6" textLength="15.42" lengthAdjust="spacingAndGlyphs" stroke="#111" stroke-width="0.15">SYN</text>
<text x="478.70" y="400.30" font-size="8.6" textLength="19.18" lengthAdjust="spacingAndGlyphs" stroke="#111" stroke-width="0.15">ALLO</text>
<rect x="0.6" y="0.6" width="518.8" height="713.8" fill="none" stroke="#000" stroke-width="1.3"/>
</svg>
</body></html>
